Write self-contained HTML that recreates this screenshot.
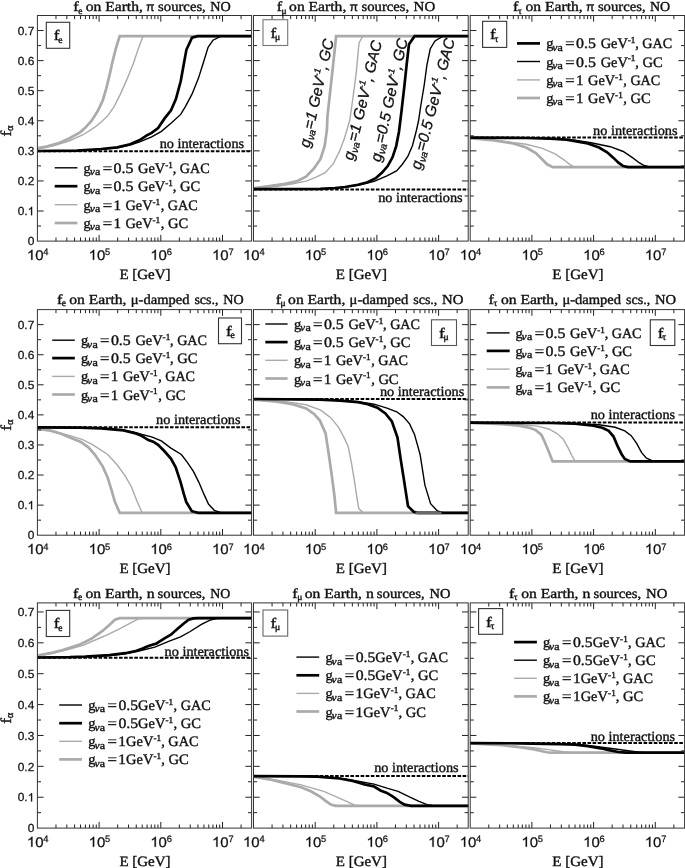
<!DOCTYPE html>
<html><head><meta charset="utf-8"><title>Flavor fractions</title>
<style>html,body{margin:0;padding:0;background:#fff}svg{display:block;will-change:transform;opacity:0.999}text{white-space:pre;text-rendering:geometricPrecision}</style>
</head><body>
<svg width="685" height="868" viewBox="0 0 685 868">
<rect width="685" height="868" fill="#fff"/>
<path d="M37.4 149 L53.1 145.8 L69.1 141 L83.6 134.5 L91.6 129.4 L96.4 126 L101.2 122 L107.7 115.8 L114.1 106.6 L120.5 93.9 L126.9 79.4 L133.4 63.4 L138.2 48.9 L143 36.2 L251.6 36.2" fill="none" stroke="#aaaaaa" stroke-width="1.4" stroke-linejoin="miter" stroke-miterlimit="3" stroke-linecap="butt" />
<path d="M37.4 148.2 L46.6 146.6 L57.9 143.4 L69.1 138.5 L80.4 132.1 L85.2 127.8 L91.6 120.6 L98 110.5 L102.8 100.2 L106.1 89.1 L109.3 76.2 L112.5 61.8 L115.7 48.9 L119.7 36.2 L251.6 36.2" fill="none" stroke="#aaaaaa" stroke-width="2.7" stroke-linejoin="miter" stroke-miterlimit="3" stroke-linecap="butt" />
<path d="M37.4 151 L77 150.7 L101.2 149.4 L117.3 147.8 L130.1 145 L139.8 141.8 L151.7 136.9 L161.4 131.3 L171 123.2 L180.7 114.4 L185.5 106.3 L192 94.2 L198.5 78.1 L204.1 60.3 L208.1 47.4 L213 40.2 L221 36.2 L251.6 36.2" fill="none" stroke="#000" stroke-width="1.4" stroke-linejoin="miter" stroke-miterlimit="3" stroke-linecap="butt" />
<path d="M37.4 151 L77 150.6 L101.2 149 L117.3 147.4 L130.1 144.2 L139.8 140.1 L146.8 135.3 L151.7 132.9 L158.1 128.1 L164.6 118.4 L171 110.3 L175.9 99 L180.7 81.3 L183.9 63.5 L186.4 49.8 L192 37.7 L197.6 36.2 L251.6 36.2" fill="none" stroke="#000" stroke-width="2.7" stroke-linejoin="miter" stroke-miterlimit="3" stroke-linecap="butt" />
<line x1="37.4" y1="151.2" x2="251.6" y2="151.2" stroke="#000" stroke-width="2.0" stroke-dasharray="3.6 1.5"/>
<path d="M253.5 188.5 L277.1 186.2 L293.1 183.8 L306 181.1 L315.6 177.4 L325.3 172.6 L333.3 163.7 L339.7 150.9 L344.5 138 L346.9 130 L349.8 120 L353 97.4 L356.2 73.2 L359 43 L362.8 36.2 L468.2 36.2" fill="none" stroke="#aaaaaa" stroke-width="1.4" stroke-linejoin="miter" stroke-miterlimit="3" stroke-linecap="butt" />
<path d="M253.5 188.1 L269.1 186.2 L285.1 183.8 L296.4 181.4 L306 176.6 L314 168.5 L320.5 158.9 L324.6 146.1 L326.9 130 L327.4 116.8 L330.4 89.4 L333.6 60.3 L336.1 36.2 L468.2 36.2" fill="none" stroke="#aaaaaa" stroke-width="2.7" stroke-linejoin="miter" stroke-miterlimit="3" stroke-linecap="butt" />
<path d="M253.5 189.2 L320 188.9 L340 187.8 L358 185.4 L374.1 181.4 L386.9 175.8 L396.5 170.9 L402.2 164.5 L407.8 156.5 L412.5 145.5 L416.5 130 L418.5 121 L420.9 105 L424.3 84.5 L426.9 65.2 L430.2 49 L435 41 L443 36.2 L468.2 36.2" fill="none" stroke="#000" stroke-width="1.4" stroke-linejoin="miter" stroke-miterlimit="3" stroke-linecap="butt" />
<path d="M253.5 189.2 L320 188.8 L335 188 L345 187 L358 184.8 L367.6 182.2 L375.7 178.2 L382.1 172.6 L387.7 166.1 L392.5 157.3 L396.2 146.1 L399 131.5 L401.6 110.3 L404.2 87.7 L406.6 65.2 L409 44.2 L414.6 36.2 L468.2 36.2" fill="none" stroke="#000" stroke-width="2.7" stroke-linejoin="miter" stroke-miterlimit="3" stroke-linecap="butt" />
<line x1="253.5" y1="189.4" x2="468.2" y2="189.4" stroke="#000" stroke-width="2.0" stroke-dasharray="3.6 1.5"/>
<path d="M470.2 138.2 L502.1 141.1 L526.2 144.3 L542.3 148.3 L555.1 153.9 L564.7 160.3 L569.6 164.3 L574.4 167.1 L684.6 167.1" fill="none" stroke="#aaaaaa" stroke-width="1.4" stroke-linejoin="miter" stroke-miterlimit="3" stroke-linecap="butt" />
<path d="M470.2 138.2 L494.1 140.3 L513.4 143.5 L526.2 147.5 L535.8 153.1 L542.3 159.5 L547.1 164.3 L552.7 167.1 L684.6 167.1" fill="none" stroke="#aaaaaa" stroke-width="2.7" stroke-linejoin="miter" stroke-miterlimit="3" stroke-linecap="butt" />
<path d="M470.2 137.7 L526 138 L550.3 138.6 L575 140.3 L591.1 142.7 L610.3 146.7 L623.2 151.5 L632.8 157.9 L639.2 162.7 L644.1 165.5 L650.5 167.1 L684.6 167.1" fill="none" stroke="#000" stroke-width="1.4" stroke-linejoin="miter" stroke-miterlimit="3" stroke-linecap="butt" />
<path d="M470.2 137.7 L526 138 L550.3 138.7 L566.4 139.7 L575 141.1 L587.8 143.5 L599.1 147.5 L607.1 152.3 L613.5 157.9 L618.4 162.7 L623.2 166 L628 167.1 L684.6 167.1" fill="none" stroke="#000" stroke-width="2.7" stroke-linejoin="miter" stroke-miterlimit="3" stroke-linecap="butt" />
<line x1="470.2" y1="137.5" x2="684.6" y2="137.5" stroke="#000" stroke-width="2.0" stroke-dasharray="3.6 1.5"/>
<path d="M37.4 429.2 L53.1 431.2 L69.1 435.3 L82 439.3 L91.6 444.1 L98 448.1 L107.7 454.5 L117.3 465 L125.3 476.2 L131.7 487.5 L136.6 500.3 L142.2 512.8 L251.6 512.8" fill="none" stroke="#aaaaaa" stroke-width="1.4" stroke-linejoin="miter" stroke-miterlimit="3" stroke-linecap="butt" />
<path d="M37.4 428.8 L49.8 430.4 L61.1 433.7 L72.3 438.5 L80.4 441.7 L88.4 447.3 L94.8 454.5 L102.8 466.6 L107.7 477.8 L111.7 490.7 L114.9 501.9 L119.7 512.8 L251.6 512.8" fill="none" stroke="#aaaaaa" stroke-width="2.7" stroke-linejoin="miter" stroke-miterlimit="3" stroke-linecap="butt" />
<path d="M37.4 427.4 L80 427.7 L101.2 428.3 L120 429.8 L133.4 432 L142 434.5 L151.6 436.9 L161.3 440.9 L170.9 448.1 L181.3 454.5 L187 461.8 L193.4 471.4 L199 482.6 L203.8 493.9 L208.6 504.3 L214.3 510.3 L221.5 512.8 L251.6 512.8" fill="none" stroke="#000" stroke-width="1.4" stroke-linejoin="miter" stroke-miterlimit="3" stroke-linecap="butt" />
<path d="M37.4 427.4 L80 427.7 L101.2 428.4 L123.7 430.4 L136.6 433.7 L142 436.1 L148.4 440.1 L153.2 441.7 L158.1 444.9 L164.5 451.3 L170.9 458.5 L175.7 467.4 L180.5 481.8 L183.8 493.9 L186.2 501.9 L191.8 511.2 L198.2 512.8 L251.6 512.8" fill="none" stroke="#000" stroke-width="2.7" stroke-linejoin="miter" stroke-miterlimit="3" stroke-linecap="butt" />
<line x1="37.4" y1="427.2" x2="251.6" y2="427.2" stroke="#000" stroke-width="2.0" stroke-dasharray="3.6 1.5"/>
<path d="M253.5 399.7 L285.3 401.6 L306.2 404.8 L320.7 410.2 L330.4 417.4 L338.5 427.1 L344.1 437.6 L348.2 446.5 L351.4 462.6 L354.6 481.9 L357 498.1 L358.8 508.8 L363.6 512.9 L468.2 512.9" fill="none" stroke="#aaaaaa" stroke-width="1.4" stroke-linejoin="miter" stroke-miterlimit="3" stroke-linecap="butt" />
<path d="M253.5 399.7 L277.2 401.6 L293.3 404.5 L306.2 408.5 L314.3 414.2 L319.9 420.6 L325.6 433.5 L328.8 454.5 L332 477.1 L334.5 496.5 L336.1 512.9 L468.2 512.9" fill="none" stroke="#aaaaaa" stroke-width="2.7" stroke-linejoin="miter" stroke-miterlimit="3" stroke-linecap="butt" />
<path d="M253.5 399 L320 399.5 L340 400.4 L358 401.6 L374.1 404.2 L387 408.1 L396.7 411.8 L403.2 416.6 L409.6 423.9 L414.5 434.4 L420.1 454.5 L424.9 485.2 L430.6 503.7 L437 510.6 L443.5 512.9 L468.2 512.9" fill="none" stroke="#000" stroke-width="1.4" stroke-linejoin="miter" stroke-miterlimit="3" stroke-linecap="butt" />
<path d="M253.5 399 L320 399.6 L340 400.6 L358 402.1 L367.7 404.2 L377.4 407.7 L385.4 413.4 L391.9 421.5 L397.5 437.6 L400.7 459.4 L404 480.3 L408 506.1 L413.6 511.8 L417.7 512.9 L468.2 512.9" fill="none" stroke="#000" stroke-width="2.7" stroke-linejoin="miter" stroke-miterlimit="3" stroke-linecap="butt" />
<line x1="415.5" y1="512.9" x2="441.5" y2="512.9" stroke="#6a6a6a" stroke-width="2.7" />
<line x1="253.5" y1="398.9" x2="468.2" y2="398.9" stroke="#000" stroke-width="2.0" stroke-dasharray="3.6 1.5"/>
<path d="M470.2 422.8 L518.2 424.5 L537.4 426.1 L548.7 429 L556.7 433.3 L563.1 438.9 L568 447.7 L572 455.8 L575.2 461.4 L684.6 461.4" fill="none" stroke="#aaaaaa" stroke-width="1.4" stroke-linejoin="miter" stroke-miterlimit="3" stroke-linecap="butt" />
<path d="M470.2 422.8 L502.1 424.1 L518.2 425.7 L529.4 427.7 L535.8 430.1 L541.5 434.9 L545.5 443.7 L549.5 453.4 L552.7 461.4 L684.6 461.4" fill="none" stroke="#aaaaaa" stroke-width="2.7" stroke-linejoin="miter" stroke-miterlimit="3" stroke-linecap="butt" />
<path d="M470.2 422.6 L550 423 L575 423.6 L599.1 424.8 L615.1 427.3 L624.8 430.9 L631.2 435.7 L636.8 443.7 L641.6 452.6 L646.5 458.2 L653.7 461.4 L684.6 461.4" fill="none" stroke="#000" stroke-width="1.4" stroke-linejoin="miter" stroke-miterlimit="3" stroke-linecap="butt" />
<path d="M470.2 422.6 L550 423 L575 423.7 L591.1 425.3 L602.3 427.7 L608.7 430.9 L613.5 436.5 L617.6 446.1 L621.6 454.2 L624.8 459 L630.4 461.4 L684.6 461.4" fill="none" stroke="#000" stroke-width="2.7" stroke-linejoin="miter" stroke-miterlimit="3" stroke-linecap="butt" />
<line x1="470.2" y1="422.4" x2="684.6" y2="422.4" stroke="#000" stroke-width="2.0" stroke-dasharray="3.6 1.5"/>
<path d="M37.4 656.1 L53.1 653.2 L69.1 649.2 L83.6 645.1 L96.4 639.5 L107.7 634.7 L120.5 628.3 L131.7 622.3 L139 618.7 L142.2 618.2 L251.6 618.2" fill="none" stroke="#aaaaaa" stroke-width="1.4" stroke-linejoin="miter" stroke-miterlimit="3" stroke-linecap="butt" />
<path d="M37.4 655.6 L49.8 653.2 L62.7 650 L80.4 644.3 L91.6 638.7 L102.8 630.7 L109.3 625.1 L114.9 619.8 L119.7 618.2 L251.6 618.2" fill="none" stroke="#aaaaaa" stroke-width="2.7" stroke-linejoin="miter" stroke-miterlimit="3" stroke-linecap="butt" />
<path d="M37.4 657.5 L70 657.3 L85.2 656.9 L109.3 655.5 L125.3 653.8 L136.6 651.6 L142 650.3 L154.8 647.1 L169.3 641.1 L180.5 636.8 L190.2 631.5 L201.4 624.3 L209.5 620.3 L215.9 618.5 L220.7 618.2 L251.6 618.2" fill="none" stroke="#000" stroke-width="1.4" stroke-linejoin="miter" stroke-miterlimit="3" stroke-linecap="butt" />
<path d="M37.4 657.5 L70 657.2 L85.2 656.7 L109.3 655.1 L125.3 653.2 L136.6 650.8 L142 648.7 L148.4 646 L156.5 643.5 L164.5 638.4 L170.9 634.7 L177.3 629.1 L183.8 623.5 L188.6 619.8 L193.4 618.4 L198.2 618.2 L251.6 618.2" fill="none" stroke="#000" stroke-width="2.7" stroke-linejoin="miter" stroke-miterlimit="3" stroke-linecap="butt" />
<line x1="37.4" y1="657.7" x2="251.6" y2="657.7" stroke="#000" stroke-width="2.0" stroke-dasharray="3.6 1.5"/>
<path d="M253.5 777 L277.1 780.1 L301.2 784.9 L312.4 788.1 L323.7 791.3 L336.5 796.9 L347.7 801.8 L354.2 805 L358.2 805.8 L468.2 805.8" fill="none" stroke="#aaaaaa" stroke-width="1.4" stroke-linejoin="miter" stroke-miterlimit="3" stroke-linecap="butt" />
<path d="M253.5 776.9 L269.1 779.3 L285.1 783.3 L301.2 787.3 L310.8 791.3 L320.5 796.9 L326.9 801.8 L330.9 804.6 L335.7 805.8 L468.2 805.8" fill="none" stroke="#aaaaaa" stroke-width="2.7" stroke-linejoin="miter" stroke-miterlimit="3" stroke-linecap="butt" />
<path d="M253.5 776.2 L300 776.3 L317.2 776.5 L339.7 778.2 L358 781.2 L374.1 784.1 L386.9 788.1 L398.1 791.3 L409.4 796.9 L419 801.4 L427.1 804.6 L433.5 805.8 L468.2 805.8" fill="none" stroke="#000" stroke-width="1.4" stroke-linejoin="miter" stroke-miterlimit="3" stroke-linecap="butt" />
<path d="M253.5 776.2 L300 776.3 L317.2 776.6 L339.7 778.5 L352.6 780.9 L358 782.5 L364.4 784.4 L374.1 786.5 L380.5 790.5 L386.9 792.9 L393.3 796.9 L399.8 801.8 L404.6 804.6 L411 805.8 L468.2 805.8" fill="none" stroke="#000" stroke-width="2.7" stroke-linejoin="miter" stroke-miterlimit="3" stroke-linecap="butt" />
<line x1="253.5" y1="776.1" x2="468.2" y2="776.1" stroke="#000" stroke-width="2.0" stroke-dasharray="3.6 1.5"/>
<path d="M470.2 743.5 L510.1 745.6 L534.2 747.8 L550.3 749.9 L563.1 751.8 L571.2 752.6 L684.6 752.6" fill="none" stroke="#aaaaaa" stroke-width="1.4" stroke-linejoin="miter" stroke-miterlimit="3" stroke-linecap="butt" />
<path d="M470.2 743.5 L502.1 745.1 L521.4 747.5 L534.2 749.4 L542.3 751.2 L547.9 752.5 L552.7 752.6 L684.6 752.6" fill="none" stroke="#aaaaaa" stroke-width="2.7" stroke-linejoin="miter" stroke-miterlimit="3" stroke-linecap="butt" />
<path d="M470.2 743.1 L520 743.3 L545 743.7 L560 743.9 L575 744.3 L594.3 746.2 L613.5 748.8 L628 750.7 L639.2 752.3 L645.7 752.6 L684.6 752.6" fill="none" stroke="#000" stroke-width="1.4" stroke-linejoin="miter" stroke-miterlimit="3" stroke-linecap="butt" />
<path d="M470.2 743.1 L520 743.3 L545 743.8 L560 744.1 L575 744.6 L587.8 746.2 L600.7 748.3 L610.3 750.4 L618.4 752 L626.4 752.6 L684.6 752.6" fill="none" stroke="#000" stroke-width="2.7" stroke-linejoin="miter" stroke-miterlimit="3" stroke-linecap="butt" />
<line x1="470.2" y1="743" x2="684.6" y2="743" stroke="#000" stroke-width="2.0" stroke-dasharray="3.6 1.5"/>
<path d="M55.97 241.1v-3.6M55.97 15.5v3.6M66.84 241.1v-3.6M66.84 15.5v3.6M74.55 241.1v-3.6M74.55 15.5v3.6M80.53 241.1v-3.6M80.53 15.5v3.6M85.41 241.1v-3.6M85.41 15.5v3.6M89.54 241.1v-3.6M89.54 15.5v3.6M93.12 241.1v-3.6M93.12 15.5v3.6M96.28 241.1v-3.6M96.28 15.5v3.6M99.1 241.1v-6.2M99.1 15.5v6.2M117.67 241.1v-3.6M117.67 15.5v3.6M128.54 241.1v-3.6M128.54 15.5v3.6M136.25 241.1v-3.6M136.25 15.5v3.6M142.23 241.1v-3.6M142.23 15.5v3.6M147.11 241.1v-3.6M147.11 15.5v3.6M151.24 241.1v-3.6M151.24 15.5v3.6M154.82 241.1v-3.6M154.82 15.5v3.6M157.98 241.1v-3.6M157.98 15.5v3.6M160.8 241.1v-6.2M160.8 15.5v6.2M179.37 241.1v-3.6M179.37 15.5v3.6M190.24 241.1v-3.6M190.24 15.5v3.6M197.95 241.1v-3.6M197.95 15.5v3.6M203.93 241.1v-3.6M203.93 15.5v3.6M208.81 241.1v-3.6M208.81 15.5v3.6M212.94 241.1v-3.6M212.94 15.5v3.6M216.52 241.1v-3.6M216.52 15.5v3.6M219.68 241.1v-3.6M219.68 15.5v3.6M222.5 241.1v-6.2M222.5 15.5v6.2M241.07 241.1v-3.6M241.07 15.5v3.6M37.4 226.06h3.6M251.6 226.06h-3.6M37.4 211.02h6.2M251.6 211.02h-6.2M37.4 195.98h3.6M251.6 195.98h-3.6M37.4 180.94h6.2M251.6 180.94h-6.2M37.4 165.9h3.6M251.6 165.9h-3.6M37.4 150.86h6.2M251.6 150.86h-6.2M37.4 135.82h3.6M251.6 135.82h-3.6M37.4 120.78h6.2M251.6 120.78h-6.2M37.4 105.74h3.6M251.6 105.74h-3.6M37.4 90.7h6.2M251.6 90.7h-6.2M37.4 75.66h3.6M251.6 75.66h-3.6M37.4 60.62h6.2M251.6 60.62h-6.2M37.4 45.58h3.6M251.6 45.58h-3.6M37.4 30.54h6.2M251.6 30.54h-6.2" stroke="#222" stroke-width="1" fill="none"/>
<rect x="37.4" y="15.5" width="214.2" height="225.6" fill="none" stroke="#333" stroke-width="1"/>
<g transform="translate(26.9,259.8) scale(1.07,1)">
<path d="M763 0H583V1147Q518 1085 412.5 1023T223 930V1104Q374 1175 487 1276T647 1472H763Z" transform="translate(0,0) scale(0.006836,-0.006836)" fill="#111" stroke="#111" stroke-width="36"/>
<text x="7.78" y="0" font-family='"Liberation Sans", sans-serif' font-size="14.0" fill="#111" stroke="#111" stroke-width="0.25">0</text>
</g>
<g transform="translate(43.3,255.4) scale(1.0,1)">
<text x="0" y="0" font-family='"Liberation Sans", sans-serif' font-size="9.3" fill="#111" stroke="#111" stroke-width="0.25">4</text>
</g>
<g transform="translate(88.6,259.8) scale(1.07,1)">
<path d="M763 0H583V1147Q518 1085 412.5 1023T223 930V1104Q374 1175 487 1276T647 1472H763Z" transform="translate(0,0) scale(0.006836,-0.006836)" fill="#111" stroke="#111" stroke-width="36"/>
<text x="7.78" y="0" font-family='"Liberation Sans", sans-serif' font-size="14.0" fill="#111" stroke="#111" stroke-width="0.25">0</text>
</g>
<g transform="translate(105,255.4) scale(1.0,1)">
<text x="0" y="0" font-family='"Liberation Sans", sans-serif' font-size="9.3" fill="#111" stroke="#111" stroke-width="0.25">5</text>
</g>
<g transform="translate(150.3,259.8) scale(1.07,1)">
<path d="M763 0H583V1147Q518 1085 412.5 1023T223 930V1104Q374 1175 487 1276T647 1472H763Z" transform="translate(0,0) scale(0.006836,-0.006836)" fill="#111" stroke="#111" stroke-width="36"/>
<text x="7.78" y="0" font-family='"Liberation Sans", sans-serif' font-size="14.0" fill="#111" stroke="#111" stroke-width="0.25">0</text>
</g>
<g transform="translate(166.7,255.4) scale(1.0,1)">
<text x="0" y="0" font-family='"Liberation Sans", sans-serif' font-size="9.3" fill="#111" stroke="#111" stroke-width="0.25">6</text>
</g>
<g transform="translate(212,259.8) scale(1.07,1)">
<path d="M763 0H583V1147Q518 1085 412.5 1023T223 930V1104Q374 1175 487 1276T647 1472H763Z" transform="translate(0,0) scale(0.006836,-0.006836)" fill="#111" stroke="#111" stroke-width="36"/>
<text x="7.78" y="0" font-family='"Liberation Sans", sans-serif' font-size="14.0" fill="#111" stroke="#111" stroke-width="0.25">0</text>
</g>
<g transform="translate(228.4,255.4) scale(1.0,1)">
<text x="0" y="0" font-family='"Liberation Sans", sans-serif' font-size="9.3" fill="#111" stroke="#111" stroke-width="0.25">7</text>
</g>
<text x="119.4" y="278.7" font-family='"Liberation Serif", serif' font-size="14.4" text-anchor="start" fill="#111" textLength="51.2" lengthAdjust="spacingAndGlyphs"  stroke="#111" stroke-width="0.38">E [GeV]</text>
<path d="M272.07 241.1v-3.6M272.07 15.5v3.6M282.94 241.1v-3.6M282.94 15.5v3.6M290.65 241.1v-3.6M290.65 15.5v3.6M296.63 241.1v-3.6M296.63 15.5v3.6M301.51 241.1v-3.6M301.51 15.5v3.6M305.64 241.1v-3.6M305.64 15.5v3.6M309.22 241.1v-3.6M309.22 15.5v3.6M312.38 241.1v-3.6M312.38 15.5v3.6M315.2 241.1v-6.2M315.2 15.5v6.2M333.77 241.1v-3.6M333.77 15.5v3.6M344.64 241.1v-3.6M344.64 15.5v3.6M352.35 241.1v-3.6M352.35 15.5v3.6M358.33 241.1v-3.6M358.33 15.5v3.6M363.21 241.1v-3.6M363.21 15.5v3.6M367.34 241.1v-3.6M367.34 15.5v3.6M370.92 241.1v-3.6M370.92 15.5v3.6M374.08 241.1v-3.6M374.08 15.5v3.6M376.9 241.1v-6.2M376.9 15.5v6.2M395.47 241.1v-3.6M395.47 15.5v3.6M406.34 241.1v-3.6M406.34 15.5v3.6M414.05 241.1v-3.6M414.05 15.5v3.6M420.03 241.1v-3.6M420.03 15.5v3.6M424.91 241.1v-3.6M424.91 15.5v3.6M429.04 241.1v-3.6M429.04 15.5v3.6M432.62 241.1v-3.6M432.62 15.5v3.6M435.78 241.1v-3.6M435.78 15.5v3.6M438.6 241.1v-6.2M438.6 15.5v6.2M457.17 241.1v-3.6M457.17 15.5v3.6M253.5 226.06h3.6M468.2 226.06h-3.6M253.5 211.02h6.2M468.2 211.02h-6.2M253.5 195.98h3.6M468.2 195.98h-3.6M253.5 180.94h6.2M468.2 180.94h-6.2M253.5 165.9h3.6M468.2 165.9h-3.6M253.5 150.86h6.2M468.2 150.86h-6.2M253.5 135.82h3.6M468.2 135.82h-3.6M253.5 120.78h6.2M468.2 120.78h-6.2M253.5 105.74h3.6M468.2 105.74h-3.6M253.5 90.7h6.2M468.2 90.7h-6.2M253.5 75.66h3.6M468.2 75.66h-3.6M253.5 60.62h6.2M468.2 60.62h-6.2M253.5 45.58h3.6M468.2 45.58h-3.6M253.5 30.54h6.2M468.2 30.54h-6.2" stroke="#222" stroke-width="1" fill="none"/>
<rect x="253.5" y="15.5" width="214.7" height="225.6" fill="none" stroke="#333" stroke-width="1"/>
<g transform="translate(243,259.8) scale(1.07,1)">
<path d="M763 0H583V1147Q518 1085 412.5 1023T223 930V1104Q374 1175 487 1276T647 1472H763Z" transform="translate(0,0) scale(0.006836,-0.006836)" fill="#111" stroke="#111" stroke-width="36"/>
<text x="7.78" y="0" font-family='"Liberation Sans", sans-serif' font-size="14.0" fill="#111" stroke="#111" stroke-width="0.25">0</text>
</g>
<g transform="translate(259.4,255.4) scale(1.0,1)">
<text x="0" y="0" font-family='"Liberation Sans", sans-serif' font-size="9.3" fill="#111" stroke="#111" stroke-width="0.25">4</text>
</g>
<g transform="translate(304.7,259.8) scale(1.07,1)">
<path d="M763 0H583V1147Q518 1085 412.5 1023T223 930V1104Q374 1175 487 1276T647 1472H763Z" transform="translate(0,0) scale(0.006836,-0.006836)" fill="#111" stroke="#111" stroke-width="36"/>
<text x="7.78" y="0" font-family='"Liberation Sans", sans-serif' font-size="14.0" fill="#111" stroke="#111" stroke-width="0.25">0</text>
</g>
<g transform="translate(321.1,255.4) scale(1.0,1)">
<text x="0" y="0" font-family='"Liberation Sans", sans-serif' font-size="9.3" fill="#111" stroke="#111" stroke-width="0.25">5</text>
</g>
<g transform="translate(366.4,259.8) scale(1.07,1)">
<path d="M763 0H583V1147Q518 1085 412.5 1023T223 930V1104Q374 1175 487 1276T647 1472H763Z" transform="translate(0,0) scale(0.006836,-0.006836)" fill="#111" stroke="#111" stroke-width="36"/>
<text x="7.78" y="0" font-family='"Liberation Sans", sans-serif' font-size="14.0" fill="#111" stroke="#111" stroke-width="0.25">0</text>
</g>
<g transform="translate(382.8,255.4) scale(1.0,1)">
<text x="0" y="0" font-family='"Liberation Sans", sans-serif' font-size="9.3" fill="#111" stroke="#111" stroke-width="0.25">6</text>
</g>
<g transform="translate(428.1,259.8) scale(1.07,1)">
<path d="M763 0H583V1147Q518 1085 412.5 1023T223 930V1104Q374 1175 487 1276T647 1472H763Z" transform="translate(0,0) scale(0.006836,-0.006836)" fill="#111" stroke="#111" stroke-width="36"/>
<text x="7.78" y="0" font-family='"Liberation Sans", sans-serif' font-size="14.0" fill="#111" stroke="#111" stroke-width="0.25">0</text>
</g>
<g transform="translate(444.5,255.4) scale(1.0,1)">
<text x="0" y="0" font-family='"Liberation Sans", sans-serif' font-size="9.3" fill="#111" stroke="#111" stroke-width="0.25">7</text>
</g>
<text x="335.75" y="278.7" font-family='"Liberation Serif", serif' font-size="14.4" text-anchor="start" fill="#111" textLength="51.2" lengthAdjust="spacingAndGlyphs"  stroke="#111" stroke-width="0.38">E [GeV]</text>
<path d="M488.77 241.1v-3.6M488.77 15.5v3.6M499.64 241.1v-3.6M499.64 15.5v3.6M507.35 241.1v-3.6M507.35 15.5v3.6M513.33 241.1v-3.6M513.33 15.5v3.6M518.21 241.1v-3.6M518.21 15.5v3.6M522.34 241.1v-3.6M522.34 15.5v3.6M525.92 241.1v-3.6M525.92 15.5v3.6M529.08 241.1v-3.6M529.08 15.5v3.6M531.9 241.1v-6.2M531.9 15.5v6.2M550.47 241.1v-3.6M550.47 15.5v3.6M561.34 241.1v-3.6M561.34 15.5v3.6M569.05 241.1v-3.6M569.05 15.5v3.6M575.03 241.1v-3.6M575.03 15.5v3.6M579.91 241.1v-3.6M579.91 15.5v3.6M584.04 241.1v-3.6M584.04 15.5v3.6M587.62 241.1v-3.6M587.62 15.5v3.6M590.78 241.1v-3.6M590.78 15.5v3.6M593.6 241.1v-6.2M593.6 15.5v6.2M612.17 241.1v-3.6M612.17 15.5v3.6M623.04 241.1v-3.6M623.04 15.5v3.6M630.75 241.1v-3.6M630.75 15.5v3.6M636.73 241.1v-3.6M636.73 15.5v3.6M641.61 241.1v-3.6M641.61 15.5v3.6M645.74 241.1v-3.6M645.74 15.5v3.6M649.32 241.1v-3.6M649.32 15.5v3.6M652.48 241.1v-3.6M652.48 15.5v3.6M655.3 241.1v-6.2M655.3 15.5v6.2M673.87 241.1v-3.6M673.87 15.5v3.6M470.2 226.06h3.6M684.6 226.06h-3.6M470.2 211.02h6.2M684.6 211.02h-6.2M470.2 195.98h3.6M684.6 195.98h-3.6M470.2 180.94h6.2M684.6 180.94h-6.2M470.2 165.9h3.6M684.6 165.9h-3.6M470.2 150.86h6.2M684.6 150.86h-6.2M470.2 135.82h3.6M684.6 135.82h-3.6M470.2 120.78h6.2M684.6 120.78h-6.2M470.2 105.74h3.6M684.6 105.74h-3.6M470.2 90.7h6.2M684.6 90.7h-6.2M470.2 75.66h3.6M684.6 75.66h-3.6M470.2 60.62h6.2M684.6 60.62h-6.2M470.2 45.58h3.6M684.6 45.58h-3.6M470.2 30.54h6.2M684.6 30.54h-6.2" stroke="#222" stroke-width="1" fill="none"/>
<rect x="470.2" y="15.5" width="214.4" height="225.6" fill="none" stroke="#333" stroke-width="1"/>
<g transform="translate(459.7,259.8) scale(1.07,1)">
<path d="M763 0H583V1147Q518 1085 412.5 1023T223 930V1104Q374 1175 487 1276T647 1472H763Z" transform="translate(0,0) scale(0.006836,-0.006836)" fill="#111" stroke="#111" stroke-width="36"/>
<text x="7.78" y="0" font-family='"Liberation Sans", sans-serif' font-size="14.0" fill="#111" stroke="#111" stroke-width="0.25">0</text>
</g>
<g transform="translate(476.1,255.4) scale(1.0,1)">
<text x="0" y="0" font-family='"Liberation Sans", sans-serif' font-size="9.3" fill="#111" stroke="#111" stroke-width="0.25">4</text>
</g>
<g transform="translate(521.4,259.8) scale(1.07,1)">
<path d="M763 0H583V1147Q518 1085 412.5 1023T223 930V1104Q374 1175 487 1276T647 1472H763Z" transform="translate(0,0) scale(0.006836,-0.006836)" fill="#111" stroke="#111" stroke-width="36"/>
<text x="7.78" y="0" font-family='"Liberation Sans", sans-serif' font-size="14.0" fill="#111" stroke="#111" stroke-width="0.25">0</text>
</g>
<g transform="translate(537.8,255.4) scale(1.0,1)">
<text x="0" y="0" font-family='"Liberation Sans", sans-serif' font-size="9.3" fill="#111" stroke="#111" stroke-width="0.25">5</text>
</g>
<g transform="translate(583.1,259.8) scale(1.07,1)">
<path d="M763 0H583V1147Q518 1085 412.5 1023T223 930V1104Q374 1175 487 1276T647 1472H763Z" transform="translate(0,0) scale(0.006836,-0.006836)" fill="#111" stroke="#111" stroke-width="36"/>
<text x="7.78" y="0" font-family='"Liberation Sans", sans-serif' font-size="14.0" fill="#111" stroke="#111" stroke-width="0.25">0</text>
</g>
<g transform="translate(599.5,255.4) scale(1.0,1)">
<text x="0" y="0" font-family='"Liberation Sans", sans-serif' font-size="9.3" fill="#111" stroke="#111" stroke-width="0.25">6</text>
</g>
<g transform="translate(644.8,259.8) scale(1.07,1)">
<path d="M763 0H583V1147Q518 1085 412.5 1023T223 930V1104Q374 1175 487 1276T647 1472H763Z" transform="translate(0,0) scale(0.006836,-0.006836)" fill="#111" stroke="#111" stroke-width="36"/>
<text x="7.78" y="0" font-family='"Liberation Sans", sans-serif' font-size="14.0" fill="#111" stroke="#111" stroke-width="0.25">0</text>
</g>
<g transform="translate(661.2,255.4) scale(1.0,1)">
<text x="0" y="0" font-family='"Liberation Sans", sans-serif' font-size="9.3" fill="#111" stroke="#111" stroke-width="0.25">7</text>
</g>
<text x="552.3" y="278.7" font-family='"Liberation Serif", serif' font-size="14.4" text-anchor="start" fill="#111" textLength="51.2" lengthAdjust="spacingAndGlyphs"  stroke="#111" stroke-width="0.38">E [GeV]</text>
<g transform="translate(27.66,245.3) scale(1.02,1)">
<text x="0" y="0" font-family='"Liberation Sans", sans-serif' font-size="11.7" fill="#111" stroke="#111" stroke-width="0.25">0</text>
</g>
<g transform="translate(17.71,215.22) scale(1.02,1)">
<text x="0" y="0" font-family='"Liberation Sans", sans-serif' font-size="11.7" fill="#111" stroke="#111" stroke-width="0.25">0</text>
<text x="6.51" y="0" font-family='"Liberation Sans", sans-serif' font-size="11.7" fill="#111" stroke="#111" stroke-width="0.25">.</text>
<path d="M763 0H583V1147Q518 1085 412.5 1023T223 930V1104Q374 1175 487 1276T647 1472H763Z" transform="translate(9.76,0) scale(0.005713,-0.005713)" fill="#111" stroke="#111" stroke-width="43"/>
</g>
<g transform="translate(17.71,185.14) scale(1.02,1)">
<text x="0" y="0" font-family='"Liberation Sans", sans-serif' font-size="11.7" fill="#111" stroke="#111" stroke-width="0.25">0</text>
<text x="6.51" y="0" font-family='"Liberation Sans", sans-serif' font-size="11.7" fill="#111" stroke="#111" stroke-width="0.25">.</text>
<text x="9.76" y="0" font-family='"Liberation Sans", sans-serif' font-size="11.7" fill="#111" stroke="#111" stroke-width="0.25">2</text>
</g>
<g transform="translate(17.71,155.06) scale(1.02,1)">
<text x="0" y="0" font-family='"Liberation Sans", sans-serif' font-size="11.7" fill="#111" stroke="#111" stroke-width="0.25">0</text>
<text x="6.51" y="0" font-family='"Liberation Sans", sans-serif' font-size="11.7" fill="#111" stroke="#111" stroke-width="0.25">.</text>
<text x="9.76" y="0" font-family='"Liberation Sans", sans-serif' font-size="11.7" fill="#111" stroke="#111" stroke-width="0.25">3</text>
</g>
<g transform="translate(17.71,124.98) scale(1.02,1)">
<text x="0" y="0" font-family='"Liberation Sans", sans-serif' font-size="11.7" fill="#111" stroke="#111" stroke-width="0.25">0</text>
<text x="6.51" y="0" font-family='"Liberation Sans", sans-serif' font-size="11.7" fill="#111" stroke="#111" stroke-width="0.25">.</text>
<text x="9.76" y="0" font-family='"Liberation Sans", sans-serif' font-size="11.7" fill="#111" stroke="#111" stroke-width="0.25">4</text>
</g>
<g transform="translate(17.71,94.9) scale(1.02,1)">
<text x="0" y="0" font-family='"Liberation Sans", sans-serif' font-size="11.7" fill="#111" stroke="#111" stroke-width="0.25">0</text>
<text x="6.51" y="0" font-family='"Liberation Sans", sans-serif' font-size="11.7" fill="#111" stroke="#111" stroke-width="0.25">.</text>
<text x="9.76" y="0" font-family='"Liberation Sans", sans-serif' font-size="11.7" fill="#111" stroke="#111" stroke-width="0.25">5</text>
</g>
<g transform="translate(17.71,64.82) scale(1.02,1)">
<text x="0" y="0" font-family='"Liberation Sans", sans-serif' font-size="11.7" fill="#111" stroke="#111" stroke-width="0.25">0</text>
<text x="6.51" y="0" font-family='"Liberation Sans", sans-serif' font-size="11.7" fill="#111" stroke="#111" stroke-width="0.25">.</text>
<text x="9.76" y="0" font-family='"Liberation Sans", sans-serif' font-size="11.7" fill="#111" stroke="#111" stroke-width="0.25">6</text>
</g>
<g transform="translate(17.71,34.74) scale(1.02,1)">
<text x="0" y="0" font-family='"Liberation Sans", sans-serif' font-size="11.7" fill="#111" stroke="#111" stroke-width="0.25">0</text>
<text x="6.51" y="0" font-family='"Liberation Sans", sans-serif' font-size="11.7" fill="#111" stroke="#111" stroke-width="0.25">.</text>
<text x="9.76" y="0" font-family='"Liberation Sans", sans-serif' font-size="11.7" fill="#111" stroke="#111" stroke-width="0.25">7</text>
</g>
<g transform="translate(10.9,136.6) rotate(-90)">
<text x="0" y="0" font-family='"Liberation Serif", serif' font-size="15.0" text-anchor="start" fill="#111" textLength="5.8" lengthAdjust="spacingAndGlyphs"  stroke="#111" stroke-width="0.38">f</text>
<text x="5.6" y="2.2" font-family='"Liberation Serif", serif' font-size="10.5" text-anchor="start" fill="#111"  stroke="#111" stroke-width="0.38">α</text>
</g>
<path d="M55.97 535.2v-3.6M55.97 309.6v3.6M66.84 535.2v-3.6M66.84 309.6v3.6M74.55 535.2v-3.6M74.55 309.6v3.6M80.53 535.2v-3.6M80.53 309.6v3.6M85.41 535.2v-3.6M85.41 309.6v3.6M89.54 535.2v-3.6M89.54 309.6v3.6M93.12 535.2v-3.6M93.12 309.6v3.6M96.28 535.2v-3.6M96.28 309.6v3.6M99.1 535.2v-6.2M99.1 309.6v6.2M117.67 535.2v-3.6M117.67 309.6v3.6M128.54 535.2v-3.6M128.54 309.6v3.6M136.25 535.2v-3.6M136.25 309.6v3.6M142.23 535.2v-3.6M142.23 309.6v3.6M147.11 535.2v-3.6M147.11 309.6v3.6M151.24 535.2v-3.6M151.24 309.6v3.6M154.82 535.2v-3.6M154.82 309.6v3.6M157.98 535.2v-3.6M157.98 309.6v3.6M160.8 535.2v-6.2M160.8 309.6v6.2M179.37 535.2v-3.6M179.37 309.6v3.6M190.24 535.2v-3.6M190.24 309.6v3.6M197.95 535.2v-3.6M197.95 309.6v3.6M203.93 535.2v-3.6M203.93 309.6v3.6M208.81 535.2v-3.6M208.81 309.6v3.6M212.94 535.2v-3.6M212.94 309.6v3.6M216.52 535.2v-3.6M216.52 309.6v3.6M219.68 535.2v-3.6M219.68 309.6v3.6M222.5 535.2v-6.2M222.5 309.6v6.2M241.07 535.2v-3.6M241.07 309.6v3.6M37.4 520.16h3.6M251.6 520.16h-3.6M37.4 505.12h6.2M251.6 505.12h-6.2M37.4 490.08h3.6M251.6 490.08h-3.6M37.4 475.04h6.2M251.6 475.04h-6.2M37.4 460h3.6M251.6 460h-3.6M37.4 444.96h6.2M251.6 444.96h-6.2M37.4 429.92h3.6M251.6 429.92h-3.6M37.4 414.88h6.2M251.6 414.88h-6.2M37.4 399.84h3.6M251.6 399.84h-3.6M37.4 384.8h6.2M251.6 384.8h-6.2M37.4 369.76h3.6M251.6 369.76h-3.6M37.4 354.72h6.2M251.6 354.72h-6.2M37.4 339.68h3.6M251.6 339.68h-3.6M37.4 324.64h6.2M251.6 324.64h-6.2" stroke="#222" stroke-width="1" fill="none"/>
<rect x="37.4" y="309.6" width="214.2" height="225.6" fill="none" stroke="#333" stroke-width="1"/>
<g transform="translate(26.9,553.9) scale(1.07,1)">
<path d="M763 0H583V1147Q518 1085 412.5 1023T223 930V1104Q374 1175 487 1276T647 1472H763Z" transform="translate(0,0) scale(0.006836,-0.006836)" fill="#111" stroke="#111" stroke-width="36"/>
<text x="7.78" y="0" font-family='"Liberation Sans", sans-serif' font-size="14.0" fill="#111" stroke="#111" stroke-width="0.25">0</text>
</g>
<g transform="translate(43.3,549.5) scale(1.0,1)">
<text x="0" y="0" font-family='"Liberation Sans", sans-serif' font-size="9.3" fill="#111" stroke="#111" stroke-width="0.25">4</text>
</g>
<g transform="translate(88.6,553.9) scale(1.07,1)">
<path d="M763 0H583V1147Q518 1085 412.5 1023T223 930V1104Q374 1175 487 1276T647 1472H763Z" transform="translate(0,0) scale(0.006836,-0.006836)" fill="#111" stroke="#111" stroke-width="36"/>
<text x="7.78" y="0" font-family='"Liberation Sans", sans-serif' font-size="14.0" fill="#111" stroke="#111" stroke-width="0.25">0</text>
</g>
<g transform="translate(105,549.5) scale(1.0,1)">
<text x="0" y="0" font-family='"Liberation Sans", sans-serif' font-size="9.3" fill="#111" stroke="#111" stroke-width="0.25">5</text>
</g>
<g transform="translate(150.3,553.9) scale(1.07,1)">
<path d="M763 0H583V1147Q518 1085 412.5 1023T223 930V1104Q374 1175 487 1276T647 1472H763Z" transform="translate(0,0) scale(0.006836,-0.006836)" fill="#111" stroke="#111" stroke-width="36"/>
<text x="7.78" y="0" font-family='"Liberation Sans", sans-serif' font-size="14.0" fill="#111" stroke="#111" stroke-width="0.25">0</text>
</g>
<g transform="translate(166.7,549.5) scale(1.0,1)">
<text x="0" y="0" font-family='"Liberation Sans", sans-serif' font-size="9.3" fill="#111" stroke="#111" stroke-width="0.25">6</text>
</g>
<g transform="translate(212,553.9) scale(1.07,1)">
<path d="M763 0H583V1147Q518 1085 412.5 1023T223 930V1104Q374 1175 487 1276T647 1472H763Z" transform="translate(0,0) scale(0.006836,-0.006836)" fill="#111" stroke="#111" stroke-width="36"/>
<text x="7.78" y="0" font-family='"Liberation Sans", sans-serif' font-size="14.0" fill="#111" stroke="#111" stroke-width="0.25">0</text>
</g>
<g transform="translate(228.4,549.5) scale(1.0,1)">
<text x="0" y="0" font-family='"Liberation Sans", sans-serif' font-size="9.3" fill="#111" stroke="#111" stroke-width="0.25">7</text>
</g>
<text x="119.4" y="572.8" font-family='"Liberation Serif", serif' font-size="14.4" text-anchor="start" fill="#111" textLength="51.2" lengthAdjust="spacingAndGlyphs"  stroke="#111" stroke-width="0.38">E [GeV]</text>
<path d="M272.07 535.2v-3.6M272.07 309.6v3.6M282.94 535.2v-3.6M282.94 309.6v3.6M290.65 535.2v-3.6M290.65 309.6v3.6M296.63 535.2v-3.6M296.63 309.6v3.6M301.51 535.2v-3.6M301.51 309.6v3.6M305.64 535.2v-3.6M305.64 309.6v3.6M309.22 535.2v-3.6M309.22 309.6v3.6M312.38 535.2v-3.6M312.38 309.6v3.6M315.2 535.2v-6.2M315.2 309.6v6.2M333.77 535.2v-3.6M333.77 309.6v3.6M344.64 535.2v-3.6M344.64 309.6v3.6M352.35 535.2v-3.6M352.35 309.6v3.6M358.33 535.2v-3.6M358.33 309.6v3.6M363.21 535.2v-3.6M363.21 309.6v3.6M367.34 535.2v-3.6M367.34 309.6v3.6M370.92 535.2v-3.6M370.92 309.6v3.6M374.08 535.2v-3.6M374.08 309.6v3.6M376.9 535.2v-6.2M376.9 309.6v6.2M395.47 535.2v-3.6M395.47 309.6v3.6M406.34 535.2v-3.6M406.34 309.6v3.6M414.05 535.2v-3.6M414.05 309.6v3.6M420.03 535.2v-3.6M420.03 309.6v3.6M424.91 535.2v-3.6M424.91 309.6v3.6M429.04 535.2v-3.6M429.04 309.6v3.6M432.62 535.2v-3.6M432.62 309.6v3.6M435.78 535.2v-3.6M435.78 309.6v3.6M438.6 535.2v-6.2M438.6 309.6v6.2M457.17 535.2v-3.6M457.17 309.6v3.6M253.5 520.16h3.6M468.2 520.16h-3.6M253.5 505.12h6.2M468.2 505.12h-6.2M253.5 490.08h3.6M468.2 490.08h-3.6M253.5 475.04h6.2M468.2 475.04h-6.2M253.5 460h3.6M468.2 460h-3.6M253.5 444.96h6.2M468.2 444.96h-6.2M253.5 429.92h3.6M468.2 429.92h-3.6M253.5 414.88h6.2M468.2 414.88h-6.2M253.5 399.84h3.6M468.2 399.84h-3.6M253.5 384.8h6.2M468.2 384.8h-6.2M253.5 369.76h3.6M468.2 369.76h-3.6M253.5 354.72h6.2M468.2 354.72h-6.2M253.5 339.68h3.6M468.2 339.68h-3.6M253.5 324.64h6.2M468.2 324.64h-6.2" stroke="#222" stroke-width="1" fill="none"/>
<rect x="253.5" y="309.6" width="214.7" height="225.6" fill="none" stroke="#333" stroke-width="1"/>
<g transform="translate(243,553.9) scale(1.07,1)">
<path d="M763 0H583V1147Q518 1085 412.5 1023T223 930V1104Q374 1175 487 1276T647 1472H763Z" transform="translate(0,0) scale(0.006836,-0.006836)" fill="#111" stroke="#111" stroke-width="36"/>
<text x="7.78" y="0" font-family='"Liberation Sans", sans-serif' font-size="14.0" fill="#111" stroke="#111" stroke-width="0.25">0</text>
</g>
<g transform="translate(259.4,549.5) scale(1.0,1)">
<text x="0" y="0" font-family='"Liberation Sans", sans-serif' font-size="9.3" fill="#111" stroke="#111" stroke-width="0.25">4</text>
</g>
<g transform="translate(304.7,553.9) scale(1.07,1)">
<path d="M763 0H583V1147Q518 1085 412.5 1023T223 930V1104Q374 1175 487 1276T647 1472H763Z" transform="translate(0,0) scale(0.006836,-0.006836)" fill="#111" stroke="#111" stroke-width="36"/>
<text x="7.78" y="0" font-family='"Liberation Sans", sans-serif' font-size="14.0" fill="#111" stroke="#111" stroke-width="0.25">0</text>
</g>
<g transform="translate(321.1,549.5) scale(1.0,1)">
<text x="0" y="0" font-family='"Liberation Sans", sans-serif' font-size="9.3" fill="#111" stroke="#111" stroke-width="0.25">5</text>
</g>
<g transform="translate(366.4,553.9) scale(1.07,1)">
<path d="M763 0H583V1147Q518 1085 412.5 1023T223 930V1104Q374 1175 487 1276T647 1472H763Z" transform="translate(0,0) scale(0.006836,-0.006836)" fill="#111" stroke="#111" stroke-width="36"/>
<text x="7.78" y="0" font-family='"Liberation Sans", sans-serif' font-size="14.0" fill="#111" stroke="#111" stroke-width="0.25">0</text>
</g>
<g transform="translate(382.8,549.5) scale(1.0,1)">
<text x="0" y="0" font-family='"Liberation Sans", sans-serif' font-size="9.3" fill="#111" stroke="#111" stroke-width="0.25">6</text>
</g>
<g transform="translate(428.1,553.9) scale(1.07,1)">
<path d="M763 0H583V1147Q518 1085 412.5 1023T223 930V1104Q374 1175 487 1276T647 1472H763Z" transform="translate(0,0) scale(0.006836,-0.006836)" fill="#111" stroke="#111" stroke-width="36"/>
<text x="7.78" y="0" font-family='"Liberation Sans", sans-serif' font-size="14.0" fill="#111" stroke="#111" stroke-width="0.25">0</text>
</g>
<g transform="translate(444.5,549.5) scale(1.0,1)">
<text x="0" y="0" font-family='"Liberation Sans", sans-serif' font-size="9.3" fill="#111" stroke="#111" stroke-width="0.25">7</text>
</g>
<text x="335.75" y="572.8" font-family='"Liberation Serif", serif' font-size="14.4" text-anchor="start" fill="#111" textLength="51.2" lengthAdjust="spacingAndGlyphs"  stroke="#111" stroke-width="0.38">E [GeV]</text>
<path d="M488.77 535.2v-3.6M488.77 309.6v3.6M499.64 535.2v-3.6M499.64 309.6v3.6M507.35 535.2v-3.6M507.35 309.6v3.6M513.33 535.2v-3.6M513.33 309.6v3.6M518.21 535.2v-3.6M518.21 309.6v3.6M522.34 535.2v-3.6M522.34 309.6v3.6M525.92 535.2v-3.6M525.92 309.6v3.6M529.08 535.2v-3.6M529.08 309.6v3.6M531.9 535.2v-6.2M531.9 309.6v6.2M550.47 535.2v-3.6M550.47 309.6v3.6M561.34 535.2v-3.6M561.34 309.6v3.6M569.05 535.2v-3.6M569.05 309.6v3.6M575.03 535.2v-3.6M575.03 309.6v3.6M579.91 535.2v-3.6M579.91 309.6v3.6M584.04 535.2v-3.6M584.04 309.6v3.6M587.62 535.2v-3.6M587.62 309.6v3.6M590.78 535.2v-3.6M590.78 309.6v3.6M593.6 535.2v-6.2M593.6 309.6v6.2M612.17 535.2v-3.6M612.17 309.6v3.6M623.04 535.2v-3.6M623.04 309.6v3.6M630.75 535.2v-3.6M630.75 309.6v3.6M636.73 535.2v-3.6M636.73 309.6v3.6M641.61 535.2v-3.6M641.61 309.6v3.6M645.74 535.2v-3.6M645.74 309.6v3.6M649.32 535.2v-3.6M649.32 309.6v3.6M652.48 535.2v-3.6M652.48 309.6v3.6M655.3 535.2v-6.2M655.3 309.6v6.2M673.87 535.2v-3.6M673.87 309.6v3.6M470.2 520.16h3.6M684.6 520.16h-3.6M470.2 505.12h6.2M684.6 505.12h-6.2M470.2 490.08h3.6M684.6 490.08h-3.6M470.2 475.04h6.2M684.6 475.04h-6.2M470.2 460h3.6M684.6 460h-3.6M470.2 444.96h6.2M684.6 444.96h-6.2M470.2 429.92h3.6M684.6 429.92h-3.6M470.2 414.88h6.2M684.6 414.88h-6.2M470.2 399.84h3.6M684.6 399.84h-3.6M470.2 384.8h6.2M684.6 384.8h-6.2M470.2 369.76h3.6M684.6 369.76h-3.6M470.2 354.72h6.2M684.6 354.72h-6.2M470.2 339.68h3.6M684.6 339.68h-3.6M470.2 324.64h6.2M684.6 324.64h-6.2" stroke="#222" stroke-width="1" fill="none"/>
<rect x="470.2" y="309.6" width="214.4" height="225.6" fill="none" stroke="#333" stroke-width="1"/>
<g transform="translate(459.7,553.9) scale(1.07,1)">
<path d="M763 0H583V1147Q518 1085 412.5 1023T223 930V1104Q374 1175 487 1276T647 1472H763Z" transform="translate(0,0) scale(0.006836,-0.006836)" fill="#111" stroke="#111" stroke-width="36"/>
<text x="7.78" y="0" font-family='"Liberation Sans", sans-serif' font-size="14.0" fill="#111" stroke="#111" stroke-width="0.25">0</text>
</g>
<g transform="translate(476.1,549.5) scale(1.0,1)">
<text x="0" y="0" font-family='"Liberation Sans", sans-serif' font-size="9.3" fill="#111" stroke="#111" stroke-width="0.25">4</text>
</g>
<g transform="translate(521.4,553.9) scale(1.07,1)">
<path d="M763 0H583V1147Q518 1085 412.5 1023T223 930V1104Q374 1175 487 1276T647 1472H763Z" transform="translate(0,0) scale(0.006836,-0.006836)" fill="#111" stroke="#111" stroke-width="36"/>
<text x="7.78" y="0" font-family='"Liberation Sans", sans-serif' font-size="14.0" fill="#111" stroke="#111" stroke-width="0.25">0</text>
</g>
<g transform="translate(537.8,549.5) scale(1.0,1)">
<text x="0" y="0" font-family='"Liberation Sans", sans-serif' font-size="9.3" fill="#111" stroke="#111" stroke-width="0.25">5</text>
</g>
<g transform="translate(583.1,553.9) scale(1.07,1)">
<path d="M763 0H583V1147Q518 1085 412.5 1023T223 930V1104Q374 1175 487 1276T647 1472H763Z" transform="translate(0,0) scale(0.006836,-0.006836)" fill="#111" stroke="#111" stroke-width="36"/>
<text x="7.78" y="0" font-family='"Liberation Sans", sans-serif' font-size="14.0" fill="#111" stroke="#111" stroke-width="0.25">0</text>
</g>
<g transform="translate(599.5,549.5) scale(1.0,1)">
<text x="0" y="0" font-family='"Liberation Sans", sans-serif' font-size="9.3" fill="#111" stroke="#111" stroke-width="0.25">6</text>
</g>
<g transform="translate(644.8,553.9) scale(1.07,1)">
<path d="M763 0H583V1147Q518 1085 412.5 1023T223 930V1104Q374 1175 487 1276T647 1472H763Z" transform="translate(0,0) scale(0.006836,-0.006836)" fill="#111" stroke="#111" stroke-width="36"/>
<text x="7.78" y="0" font-family='"Liberation Sans", sans-serif' font-size="14.0" fill="#111" stroke="#111" stroke-width="0.25">0</text>
</g>
<g transform="translate(661.2,549.5) scale(1.0,1)">
<text x="0" y="0" font-family='"Liberation Sans", sans-serif' font-size="9.3" fill="#111" stroke="#111" stroke-width="0.25">7</text>
</g>
<text x="552.3" y="572.8" font-family='"Liberation Serif", serif' font-size="14.4" text-anchor="start" fill="#111" textLength="51.2" lengthAdjust="spacingAndGlyphs"  stroke="#111" stroke-width="0.38">E [GeV]</text>
<g transform="translate(27.66,539.4) scale(1.02,1)">
<text x="0" y="0" font-family='"Liberation Sans", sans-serif' font-size="11.7" fill="#111" stroke="#111" stroke-width="0.25">0</text>
</g>
<g transform="translate(17.71,509.32) scale(1.02,1)">
<text x="0" y="0" font-family='"Liberation Sans", sans-serif' font-size="11.7" fill="#111" stroke="#111" stroke-width="0.25">0</text>
<text x="6.51" y="0" font-family='"Liberation Sans", sans-serif' font-size="11.7" fill="#111" stroke="#111" stroke-width="0.25">.</text>
<path d="M763 0H583V1147Q518 1085 412.5 1023T223 930V1104Q374 1175 487 1276T647 1472H763Z" transform="translate(9.76,0) scale(0.005713,-0.005713)" fill="#111" stroke="#111" stroke-width="43"/>
</g>
<g transform="translate(17.71,479.24) scale(1.02,1)">
<text x="0" y="0" font-family='"Liberation Sans", sans-serif' font-size="11.7" fill="#111" stroke="#111" stroke-width="0.25">0</text>
<text x="6.51" y="0" font-family='"Liberation Sans", sans-serif' font-size="11.7" fill="#111" stroke="#111" stroke-width="0.25">.</text>
<text x="9.76" y="0" font-family='"Liberation Sans", sans-serif' font-size="11.7" fill="#111" stroke="#111" stroke-width="0.25">2</text>
</g>
<g transform="translate(17.71,449.16) scale(1.02,1)">
<text x="0" y="0" font-family='"Liberation Sans", sans-serif' font-size="11.7" fill="#111" stroke="#111" stroke-width="0.25">0</text>
<text x="6.51" y="0" font-family='"Liberation Sans", sans-serif' font-size="11.7" fill="#111" stroke="#111" stroke-width="0.25">.</text>
<text x="9.76" y="0" font-family='"Liberation Sans", sans-serif' font-size="11.7" fill="#111" stroke="#111" stroke-width="0.25">3</text>
</g>
<g transform="translate(17.71,419.08) scale(1.02,1)">
<text x="0" y="0" font-family='"Liberation Sans", sans-serif' font-size="11.7" fill="#111" stroke="#111" stroke-width="0.25">0</text>
<text x="6.51" y="0" font-family='"Liberation Sans", sans-serif' font-size="11.7" fill="#111" stroke="#111" stroke-width="0.25">.</text>
<text x="9.76" y="0" font-family='"Liberation Sans", sans-serif' font-size="11.7" fill="#111" stroke="#111" stroke-width="0.25">4</text>
</g>
<g transform="translate(17.71,389) scale(1.02,1)">
<text x="0" y="0" font-family='"Liberation Sans", sans-serif' font-size="11.7" fill="#111" stroke="#111" stroke-width="0.25">0</text>
<text x="6.51" y="0" font-family='"Liberation Sans", sans-serif' font-size="11.7" fill="#111" stroke="#111" stroke-width="0.25">.</text>
<text x="9.76" y="0" font-family='"Liberation Sans", sans-serif' font-size="11.7" fill="#111" stroke="#111" stroke-width="0.25">5</text>
</g>
<g transform="translate(17.71,358.92) scale(1.02,1)">
<text x="0" y="0" font-family='"Liberation Sans", sans-serif' font-size="11.7" fill="#111" stroke="#111" stroke-width="0.25">0</text>
<text x="6.51" y="0" font-family='"Liberation Sans", sans-serif' font-size="11.7" fill="#111" stroke="#111" stroke-width="0.25">.</text>
<text x="9.76" y="0" font-family='"Liberation Sans", sans-serif' font-size="11.7" fill="#111" stroke="#111" stroke-width="0.25">6</text>
</g>
<g transform="translate(17.71,328.84) scale(1.02,1)">
<text x="0" y="0" font-family='"Liberation Sans", sans-serif' font-size="11.7" fill="#111" stroke="#111" stroke-width="0.25">0</text>
<text x="6.51" y="0" font-family='"Liberation Sans", sans-serif' font-size="11.7" fill="#111" stroke="#111" stroke-width="0.25">.</text>
<text x="9.76" y="0" font-family='"Liberation Sans", sans-serif' font-size="11.7" fill="#111" stroke="#111" stroke-width="0.25">7</text>
</g>
<g transform="translate(10.9,430.7) rotate(-90)">
<text x="0" y="0" font-family='"Liberation Serif", serif' font-size="15.0" text-anchor="start" fill="#111" textLength="5.8" lengthAdjust="spacingAndGlyphs"  stroke="#111" stroke-width="0.38">f</text>
<text x="5.6" y="2.2" font-family='"Liberation Serif", serif' font-size="10.5" text-anchor="start" fill="#111"  stroke="#111" stroke-width="0.38">α</text>
</g>
<path d="M55.97 828.1v-3.6M55.97 602.9v3.6M66.84 828.1v-3.6M66.84 602.9v3.6M74.55 828.1v-3.6M74.55 602.9v3.6M80.53 828.1v-3.6M80.53 602.9v3.6M85.41 828.1v-3.6M85.41 602.9v3.6M89.54 828.1v-3.6M89.54 602.9v3.6M93.12 828.1v-3.6M93.12 602.9v3.6M96.28 828.1v-3.6M96.28 602.9v3.6M99.1 828.1v-6.2M99.1 602.9v6.2M117.67 828.1v-3.6M117.67 602.9v3.6M128.54 828.1v-3.6M128.54 602.9v3.6M136.25 828.1v-3.6M136.25 602.9v3.6M142.23 828.1v-3.6M142.23 602.9v3.6M147.11 828.1v-3.6M147.11 602.9v3.6M151.24 828.1v-3.6M151.24 602.9v3.6M154.82 828.1v-3.6M154.82 602.9v3.6M157.98 828.1v-3.6M157.98 602.9v3.6M160.8 828.1v-6.2M160.8 602.9v6.2M179.37 828.1v-3.6M179.37 602.9v3.6M190.24 828.1v-3.6M190.24 602.9v3.6M197.95 828.1v-3.6M197.95 602.9v3.6M203.93 828.1v-3.6M203.93 602.9v3.6M208.81 828.1v-3.6M208.81 602.9v3.6M212.94 828.1v-3.6M212.94 602.9v3.6M216.52 828.1v-3.6M216.52 602.9v3.6M219.68 828.1v-3.6M219.68 602.9v3.6M222.5 828.1v-6.2M222.5 602.9v6.2M241.07 828.1v-3.6M241.07 602.9v3.6M37.4 812.66h3.6M251.6 812.66h-3.6M37.4 797.22h6.2M251.6 797.22h-6.2M37.4 781.78h3.6M251.6 781.78h-3.6M37.4 766.34h6.2M251.6 766.34h-6.2M37.4 750.9h3.6M251.6 750.9h-3.6M37.4 735.46h6.2M251.6 735.46h-6.2M37.4 720.02h3.6M251.6 720.02h-3.6M37.4 704.58h6.2M251.6 704.58h-6.2M37.4 689.14h3.6M251.6 689.14h-3.6M37.4 673.7h6.2M251.6 673.7h-6.2M37.4 658.26h3.6M251.6 658.26h-3.6M37.4 642.82h6.2M251.6 642.82h-6.2M37.4 627.38h3.6M251.6 627.38h-3.6M37.4 611.94h6.2M251.6 611.94h-6.2" stroke="#222" stroke-width="1" fill="none"/>
<rect x="37.4" y="602.9" width="214.2" height="225.2" fill="none" stroke="#333" stroke-width="1"/>
<g transform="translate(26.9,846.8) scale(1.07,1)">
<path d="M763 0H583V1147Q518 1085 412.5 1023T223 930V1104Q374 1175 487 1276T647 1472H763Z" transform="translate(0,0) scale(0.006836,-0.006836)" fill="#111" stroke="#111" stroke-width="36"/>
<text x="7.78" y="0" font-family='"Liberation Sans", sans-serif' font-size="14.0" fill="#111" stroke="#111" stroke-width="0.25">0</text>
</g>
<g transform="translate(43.3,842.4) scale(1.0,1)">
<text x="0" y="0" font-family='"Liberation Sans", sans-serif' font-size="9.3" fill="#111" stroke="#111" stroke-width="0.25">4</text>
</g>
<g transform="translate(88.6,846.8) scale(1.07,1)">
<path d="M763 0H583V1147Q518 1085 412.5 1023T223 930V1104Q374 1175 487 1276T647 1472H763Z" transform="translate(0,0) scale(0.006836,-0.006836)" fill="#111" stroke="#111" stroke-width="36"/>
<text x="7.78" y="0" font-family='"Liberation Sans", sans-serif' font-size="14.0" fill="#111" stroke="#111" stroke-width="0.25">0</text>
</g>
<g transform="translate(105,842.4) scale(1.0,1)">
<text x="0" y="0" font-family='"Liberation Sans", sans-serif' font-size="9.3" fill="#111" stroke="#111" stroke-width="0.25">5</text>
</g>
<g transform="translate(150.3,846.8) scale(1.07,1)">
<path d="M763 0H583V1147Q518 1085 412.5 1023T223 930V1104Q374 1175 487 1276T647 1472H763Z" transform="translate(0,0) scale(0.006836,-0.006836)" fill="#111" stroke="#111" stroke-width="36"/>
<text x="7.78" y="0" font-family='"Liberation Sans", sans-serif' font-size="14.0" fill="#111" stroke="#111" stroke-width="0.25">0</text>
</g>
<g transform="translate(166.7,842.4) scale(1.0,1)">
<text x="0" y="0" font-family='"Liberation Sans", sans-serif' font-size="9.3" fill="#111" stroke="#111" stroke-width="0.25">6</text>
</g>
<g transform="translate(212,846.8) scale(1.07,1)">
<path d="M763 0H583V1147Q518 1085 412.5 1023T223 930V1104Q374 1175 487 1276T647 1472H763Z" transform="translate(0,0) scale(0.006836,-0.006836)" fill="#111" stroke="#111" stroke-width="36"/>
<text x="7.78" y="0" font-family='"Liberation Sans", sans-serif' font-size="14.0" fill="#111" stroke="#111" stroke-width="0.25">0</text>
</g>
<g transform="translate(228.4,842.4) scale(1.0,1)">
<text x="0" y="0" font-family='"Liberation Sans", sans-serif' font-size="9.3" fill="#111" stroke="#111" stroke-width="0.25">7</text>
</g>
<text x="119.4" y="865.7" font-family='"Liberation Serif", serif' font-size="14.4" text-anchor="start" fill="#111" textLength="51.2" lengthAdjust="spacingAndGlyphs"  stroke="#111" stroke-width="0.38">E [GeV]</text>
<path d="M272.07 828.1v-3.6M272.07 602.9v3.6M282.94 828.1v-3.6M282.94 602.9v3.6M290.65 828.1v-3.6M290.65 602.9v3.6M296.63 828.1v-3.6M296.63 602.9v3.6M301.51 828.1v-3.6M301.51 602.9v3.6M305.64 828.1v-3.6M305.64 602.9v3.6M309.22 828.1v-3.6M309.22 602.9v3.6M312.38 828.1v-3.6M312.38 602.9v3.6M315.2 828.1v-6.2M315.2 602.9v6.2M333.77 828.1v-3.6M333.77 602.9v3.6M344.64 828.1v-3.6M344.64 602.9v3.6M352.35 828.1v-3.6M352.35 602.9v3.6M358.33 828.1v-3.6M358.33 602.9v3.6M363.21 828.1v-3.6M363.21 602.9v3.6M367.34 828.1v-3.6M367.34 602.9v3.6M370.92 828.1v-3.6M370.92 602.9v3.6M374.08 828.1v-3.6M374.08 602.9v3.6M376.9 828.1v-6.2M376.9 602.9v6.2M395.47 828.1v-3.6M395.47 602.9v3.6M406.34 828.1v-3.6M406.34 602.9v3.6M414.05 828.1v-3.6M414.05 602.9v3.6M420.03 828.1v-3.6M420.03 602.9v3.6M424.91 828.1v-3.6M424.91 602.9v3.6M429.04 828.1v-3.6M429.04 602.9v3.6M432.62 828.1v-3.6M432.62 602.9v3.6M435.78 828.1v-3.6M435.78 602.9v3.6M438.6 828.1v-6.2M438.6 602.9v6.2M457.17 828.1v-3.6M457.17 602.9v3.6M253.5 812.66h3.6M468.2 812.66h-3.6M253.5 797.22h6.2M468.2 797.22h-6.2M253.5 781.78h3.6M468.2 781.78h-3.6M253.5 766.34h6.2M468.2 766.34h-6.2M253.5 750.9h3.6M468.2 750.9h-3.6M253.5 735.46h6.2M468.2 735.46h-6.2M253.5 720.02h3.6M468.2 720.02h-3.6M253.5 704.58h6.2M468.2 704.58h-6.2M253.5 689.14h3.6M468.2 689.14h-3.6M253.5 673.7h6.2M468.2 673.7h-6.2M253.5 658.26h3.6M468.2 658.26h-3.6M253.5 642.82h6.2M468.2 642.82h-6.2M253.5 627.38h3.6M468.2 627.38h-3.6M253.5 611.94h6.2M468.2 611.94h-6.2" stroke="#222" stroke-width="1" fill="none"/>
<rect x="253.5" y="602.9" width="214.7" height="225.2" fill="none" stroke="#333" stroke-width="1"/>
<g transform="translate(243,846.8) scale(1.07,1)">
<path d="M763 0H583V1147Q518 1085 412.5 1023T223 930V1104Q374 1175 487 1276T647 1472H763Z" transform="translate(0,0) scale(0.006836,-0.006836)" fill="#111" stroke="#111" stroke-width="36"/>
<text x="7.78" y="0" font-family='"Liberation Sans", sans-serif' font-size="14.0" fill="#111" stroke="#111" stroke-width="0.25">0</text>
</g>
<g transform="translate(259.4,842.4) scale(1.0,1)">
<text x="0" y="0" font-family='"Liberation Sans", sans-serif' font-size="9.3" fill="#111" stroke="#111" stroke-width="0.25">4</text>
</g>
<g transform="translate(304.7,846.8) scale(1.07,1)">
<path d="M763 0H583V1147Q518 1085 412.5 1023T223 930V1104Q374 1175 487 1276T647 1472H763Z" transform="translate(0,0) scale(0.006836,-0.006836)" fill="#111" stroke="#111" stroke-width="36"/>
<text x="7.78" y="0" font-family='"Liberation Sans", sans-serif' font-size="14.0" fill="#111" stroke="#111" stroke-width="0.25">0</text>
</g>
<g transform="translate(321.1,842.4) scale(1.0,1)">
<text x="0" y="0" font-family='"Liberation Sans", sans-serif' font-size="9.3" fill="#111" stroke="#111" stroke-width="0.25">5</text>
</g>
<g transform="translate(366.4,846.8) scale(1.07,1)">
<path d="M763 0H583V1147Q518 1085 412.5 1023T223 930V1104Q374 1175 487 1276T647 1472H763Z" transform="translate(0,0) scale(0.006836,-0.006836)" fill="#111" stroke="#111" stroke-width="36"/>
<text x="7.78" y="0" font-family='"Liberation Sans", sans-serif' font-size="14.0" fill="#111" stroke="#111" stroke-width="0.25">0</text>
</g>
<g transform="translate(382.8,842.4) scale(1.0,1)">
<text x="0" y="0" font-family='"Liberation Sans", sans-serif' font-size="9.3" fill="#111" stroke="#111" stroke-width="0.25">6</text>
</g>
<g transform="translate(428.1,846.8) scale(1.07,1)">
<path d="M763 0H583V1147Q518 1085 412.5 1023T223 930V1104Q374 1175 487 1276T647 1472H763Z" transform="translate(0,0) scale(0.006836,-0.006836)" fill="#111" stroke="#111" stroke-width="36"/>
<text x="7.78" y="0" font-family='"Liberation Sans", sans-serif' font-size="14.0" fill="#111" stroke="#111" stroke-width="0.25">0</text>
</g>
<g transform="translate(444.5,842.4) scale(1.0,1)">
<text x="0" y="0" font-family='"Liberation Sans", sans-serif' font-size="9.3" fill="#111" stroke="#111" stroke-width="0.25">7</text>
</g>
<text x="335.75" y="865.7" font-family='"Liberation Serif", serif' font-size="14.4" text-anchor="start" fill="#111" textLength="51.2" lengthAdjust="spacingAndGlyphs"  stroke="#111" stroke-width="0.38">E [GeV]</text>
<path d="M488.77 828.1v-3.6M488.77 602.9v3.6M499.64 828.1v-3.6M499.64 602.9v3.6M507.35 828.1v-3.6M507.35 602.9v3.6M513.33 828.1v-3.6M513.33 602.9v3.6M518.21 828.1v-3.6M518.21 602.9v3.6M522.34 828.1v-3.6M522.34 602.9v3.6M525.92 828.1v-3.6M525.92 602.9v3.6M529.08 828.1v-3.6M529.08 602.9v3.6M531.9 828.1v-6.2M531.9 602.9v6.2M550.47 828.1v-3.6M550.47 602.9v3.6M561.34 828.1v-3.6M561.34 602.9v3.6M569.05 828.1v-3.6M569.05 602.9v3.6M575.03 828.1v-3.6M575.03 602.9v3.6M579.91 828.1v-3.6M579.91 602.9v3.6M584.04 828.1v-3.6M584.04 602.9v3.6M587.62 828.1v-3.6M587.62 602.9v3.6M590.78 828.1v-3.6M590.78 602.9v3.6M593.6 828.1v-6.2M593.6 602.9v6.2M612.17 828.1v-3.6M612.17 602.9v3.6M623.04 828.1v-3.6M623.04 602.9v3.6M630.75 828.1v-3.6M630.75 602.9v3.6M636.73 828.1v-3.6M636.73 602.9v3.6M641.61 828.1v-3.6M641.61 602.9v3.6M645.74 828.1v-3.6M645.74 602.9v3.6M649.32 828.1v-3.6M649.32 602.9v3.6M652.48 828.1v-3.6M652.48 602.9v3.6M655.3 828.1v-6.2M655.3 602.9v6.2M673.87 828.1v-3.6M673.87 602.9v3.6M470.2 812.66h3.6M684.6 812.66h-3.6M470.2 797.22h6.2M684.6 797.22h-6.2M470.2 781.78h3.6M684.6 781.78h-3.6M470.2 766.34h6.2M684.6 766.34h-6.2M470.2 750.9h3.6M684.6 750.9h-3.6M470.2 735.46h6.2M684.6 735.46h-6.2M470.2 720.02h3.6M684.6 720.02h-3.6M470.2 704.58h6.2M684.6 704.58h-6.2M470.2 689.14h3.6M684.6 689.14h-3.6M470.2 673.7h6.2M684.6 673.7h-6.2M470.2 658.26h3.6M684.6 658.26h-3.6M470.2 642.82h6.2M684.6 642.82h-6.2M470.2 627.38h3.6M684.6 627.38h-3.6M470.2 611.94h6.2M684.6 611.94h-6.2" stroke="#222" stroke-width="1" fill="none"/>
<rect x="470.2" y="602.9" width="214.4" height="225.2" fill="none" stroke="#333" stroke-width="1"/>
<g transform="translate(459.7,846.8) scale(1.07,1)">
<path d="M763 0H583V1147Q518 1085 412.5 1023T223 930V1104Q374 1175 487 1276T647 1472H763Z" transform="translate(0,0) scale(0.006836,-0.006836)" fill="#111" stroke="#111" stroke-width="36"/>
<text x="7.78" y="0" font-family='"Liberation Sans", sans-serif' font-size="14.0" fill="#111" stroke="#111" stroke-width="0.25">0</text>
</g>
<g transform="translate(476.1,842.4) scale(1.0,1)">
<text x="0" y="0" font-family='"Liberation Sans", sans-serif' font-size="9.3" fill="#111" stroke="#111" stroke-width="0.25">4</text>
</g>
<g transform="translate(521.4,846.8) scale(1.07,1)">
<path d="M763 0H583V1147Q518 1085 412.5 1023T223 930V1104Q374 1175 487 1276T647 1472H763Z" transform="translate(0,0) scale(0.006836,-0.006836)" fill="#111" stroke="#111" stroke-width="36"/>
<text x="7.78" y="0" font-family='"Liberation Sans", sans-serif' font-size="14.0" fill="#111" stroke="#111" stroke-width="0.25">0</text>
</g>
<g transform="translate(537.8,842.4) scale(1.0,1)">
<text x="0" y="0" font-family='"Liberation Sans", sans-serif' font-size="9.3" fill="#111" stroke="#111" stroke-width="0.25">5</text>
</g>
<g transform="translate(583.1,846.8) scale(1.07,1)">
<path d="M763 0H583V1147Q518 1085 412.5 1023T223 930V1104Q374 1175 487 1276T647 1472H763Z" transform="translate(0,0) scale(0.006836,-0.006836)" fill="#111" stroke="#111" stroke-width="36"/>
<text x="7.78" y="0" font-family='"Liberation Sans", sans-serif' font-size="14.0" fill="#111" stroke="#111" stroke-width="0.25">0</text>
</g>
<g transform="translate(599.5,842.4) scale(1.0,1)">
<text x="0" y="0" font-family='"Liberation Sans", sans-serif' font-size="9.3" fill="#111" stroke="#111" stroke-width="0.25">6</text>
</g>
<g transform="translate(644.8,846.8) scale(1.07,1)">
<path d="M763 0H583V1147Q518 1085 412.5 1023T223 930V1104Q374 1175 487 1276T647 1472H763Z" transform="translate(0,0) scale(0.006836,-0.006836)" fill="#111" stroke="#111" stroke-width="36"/>
<text x="7.78" y="0" font-family='"Liberation Sans", sans-serif' font-size="14.0" fill="#111" stroke="#111" stroke-width="0.25">0</text>
</g>
<g transform="translate(661.2,842.4) scale(1.0,1)">
<text x="0" y="0" font-family='"Liberation Sans", sans-serif' font-size="9.3" fill="#111" stroke="#111" stroke-width="0.25">7</text>
</g>
<text x="552.3" y="865.7" font-family='"Liberation Serif", serif' font-size="14.4" text-anchor="start" fill="#111" textLength="51.2" lengthAdjust="spacingAndGlyphs"  stroke="#111" stroke-width="0.38">E [GeV]</text>
<g transform="translate(27.66,832.3) scale(1.02,1)">
<text x="0" y="0" font-family='"Liberation Sans", sans-serif' font-size="11.7" fill="#111" stroke="#111" stroke-width="0.25">0</text>
</g>
<g transform="translate(17.71,801.42) scale(1.02,1)">
<text x="0" y="0" font-family='"Liberation Sans", sans-serif' font-size="11.7" fill="#111" stroke="#111" stroke-width="0.25">0</text>
<text x="6.51" y="0" font-family='"Liberation Sans", sans-serif' font-size="11.7" fill="#111" stroke="#111" stroke-width="0.25">.</text>
<path d="M763 0H583V1147Q518 1085 412.5 1023T223 930V1104Q374 1175 487 1276T647 1472H763Z" transform="translate(9.76,0) scale(0.005713,-0.005713)" fill="#111" stroke="#111" stroke-width="43"/>
</g>
<g transform="translate(17.71,770.54) scale(1.02,1)">
<text x="0" y="0" font-family='"Liberation Sans", sans-serif' font-size="11.7" fill="#111" stroke="#111" stroke-width="0.25">0</text>
<text x="6.51" y="0" font-family='"Liberation Sans", sans-serif' font-size="11.7" fill="#111" stroke="#111" stroke-width="0.25">.</text>
<text x="9.76" y="0" font-family='"Liberation Sans", sans-serif' font-size="11.7" fill="#111" stroke="#111" stroke-width="0.25">2</text>
</g>
<g transform="translate(17.71,739.66) scale(1.02,1)">
<text x="0" y="0" font-family='"Liberation Sans", sans-serif' font-size="11.7" fill="#111" stroke="#111" stroke-width="0.25">0</text>
<text x="6.51" y="0" font-family='"Liberation Sans", sans-serif' font-size="11.7" fill="#111" stroke="#111" stroke-width="0.25">.</text>
<text x="9.76" y="0" font-family='"Liberation Sans", sans-serif' font-size="11.7" fill="#111" stroke="#111" stroke-width="0.25">3</text>
</g>
<g transform="translate(17.71,708.78) scale(1.02,1)">
<text x="0" y="0" font-family='"Liberation Sans", sans-serif' font-size="11.7" fill="#111" stroke="#111" stroke-width="0.25">0</text>
<text x="6.51" y="0" font-family='"Liberation Sans", sans-serif' font-size="11.7" fill="#111" stroke="#111" stroke-width="0.25">.</text>
<text x="9.76" y="0" font-family='"Liberation Sans", sans-serif' font-size="11.7" fill="#111" stroke="#111" stroke-width="0.25">4</text>
</g>
<g transform="translate(17.71,677.9) scale(1.02,1)">
<text x="0" y="0" font-family='"Liberation Sans", sans-serif' font-size="11.7" fill="#111" stroke="#111" stroke-width="0.25">0</text>
<text x="6.51" y="0" font-family='"Liberation Sans", sans-serif' font-size="11.7" fill="#111" stroke="#111" stroke-width="0.25">.</text>
<text x="9.76" y="0" font-family='"Liberation Sans", sans-serif' font-size="11.7" fill="#111" stroke="#111" stroke-width="0.25">5</text>
</g>
<g transform="translate(17.71,647.02) scale(1.02,1)">
<text x="0" y="0" font-family='"Liberation Sans", sans-serif' font-size="11.7" fill="#111" stroke="#111" stroke-width="0.25">0</text>
<text x="6.51" y="0" font-family='"Liberation Sans", sans-serif' font-size="11.7" fill="#111" stroke="#111" stroke-width="0.25">.</text>
<text x="9.76" y="0" font-family='"Liberation Sans", sans-serif' font-size="11.7" fill="#111" stroke="#111" stroke-width="0.25">6</text>
</g>
<g transform="translate(17.71,616.14) scale(1.02,1)">
<text x="0" y="0" font-family='"Liberation Sans", sans-serif' font-size="11.7" fill="#111" stroke="#111" stroke-width="0.25">0</text>
<text x="6.51" y="0" font-family='"Liberation Sans", sans-serif' font-size="11.7" fill="#111" stroke="#111" stroke-width="0.25">.</text>
<text x="9.76" y="0" font-family='"Liberation Sans", sans-serif' font-size="11.7" fill="#111" stroke="#111" stroke-width="0.25">7</text>
</g>
<g transform="translate(10.9,723.8) rotate(-90)">
<text x="0" y="0" font-family='"Liberation Serif", serif' font-size="15.0" text-anchor="start" fill="#111" textLength="5.8" lengthAdjust="spacingAndGlyphs"  stroke="#111" stroke-width="0.38">f</text>
<text x="5.6" y="2.2" font-family='"Liberation Serif", serif' font-size="10.5" text-anchor="start" fill="#111"  stroke="#111" stroke-width="0.38">α</text>
</g>
<text x="73.3" y="11.4" font-family='"Liberation Serif", serif' font-size="13.7" text-anchor="start" fill="#111" textLength="5.4" lengthAdjust="spacingAndGlyphs"  stroke="#111" stroke-width="0.38">f</text>
<text x="78.2" y="13.7" font-family='"Liberation Serif", serif' font-size="9.5" text-anchor="start" fill="#111"  stroke="#111" stroke-width="0.38">e</text>
<text x="85.7" y="11.4" font-family='"Liberation Serif", serif' font-size="13.7" text-anchor="start" fill="#111" textLength="57.2" lengthAdjust="spacingAndGlyphs"  stroke="#111" stroke-width="0.38">on Earth,</text>
<text x="146.1" y="11.4" font-family='"Liberation Sans", sans-serif' font-size="12.3" text-anchor="start" fill="#111" stroke="#111" stroke-width="0.35">π</text>
<text x="158.1" y="11.4" font-family='"Liberation Serif", serif' font-size="13.7" text-anchor="start" fill="#111" textLength="47.7" lengthAdjust="spacingAndGlyphs"  stroke="#111" stroke-width="0.38">sources,</text>
<text x="210.2" y="11.4" font-family='"Liberation Serif", serif' font-size="13.7" text-anchor="start" fill="#111" textLength="20.5" lengthAdjust="spacingAndGlyphs"  stroke="#111" stroke-width="0.38">NO</text>
<text x="276.7" y="11.4" font-family='"Liberation Serif", serif' font-size="13.7" text-anchor="start" fill="#111" textLength="5.4" lengthAdjust="spacingAndGlyphs"  stroke="#111" stroke-width="0.38">f</text>
<text x="281.6" y="13.7" font-family='"Liberation Serif", serif' font-size="9.5" text-anchor="start" fill="#111"  stroke="#111" stroke-width="0.38">μ</text>
<text x="289.1" y="11.4" font-family='"Liberation Serif", serif' font-size="13.7" text-anchor="start" fill="#111" textLength="57.2" lengthAdjust="spacingAndGlyphs"  stroke="#111" stroke-width="0.38">on Earth,</text>
<text x="349.5" y="11.4" font-family='"Liberation Sans", sans-serif' font-size="12.3" text-anchor="start" fill="#111" stroke="#111" stroke-width="0.35">π</text>
<text x="361.5" y="11.4" font-family='"Liberation Serif", serif' font-size="13.7" text-anchor="start" fill="#111" textLength="47.7" lengthAdjust="spacingAndGlyphs"  stroke="#111" stroke-width="0.38">sources,</text>
<text x="413.6" y="11.4" font-family='"Liberation Serif", serif' font-size="13.7" text-anchor="start" fill="#111" textLength="21.6" lengthAdjust="spacingAndGlyphs"  stroke="#111" stroke-width="0.38">NO</text>
<text x="513.1" y="11.4" font-family='"Liberation Serif", serif' font-size="13.7" text-anchor="start" fill="#111" textLength="5.4" lengthAdjust="spacingAndGlyphs"  stroke="#111" stroke-width="0.38">f</text>
<text x="518" y="13.7" font-family='"Liberation Serif", serif' font-size="9.5" text-anchor="start" fill="#111"  stroke="#111" stroke-width="0.38">τ</text>
<text x="525.5" y="11.4" font-family='"Liberation Serif", serif' font-size="13.7" text-anchor="start" fill="#111" textLength="57.2" lengthAdjust="spacingAndGlyphs"  stroke="#111" stroke-width="0.38">on Earth,</text>
<text x="585.9" y="11.4" font-family='"Liberation Sans", sans-serif' font-size="12.3" text-anchor="start" fill="#111" stroke="#111" stroke-width="0.35">π</text>
<text x="597.9" y="11.4" font-family='"Liberation Serif", serif' font-size="13.7" text-anchor="start" fill="#111" textLength="47.7" lengthAdjust="spacingAndGlyphs"  stroke="#111" stroke-width="0.38">sources,</text>
<text x="650" y="11.4" font-family='"Liberation Serif", serif' font-size="13.7" text-anchor="start" fill="#111" textLength="20.2" lengthAdjust="spacingAndGlyphs"  stroke="#111" stroke-width="0.38">NO</text>
<text x="56.9" y="303.6" font-family='"Liberation Serif", serif' font-size="13.7" text-anchor="start" fill="#111" textLength="5.4" lengthAdjust="spacingAndGlyphs"  stroke="#111" stroke-width="0.38">f</text>
<text x="61.8" y="305.9" font-family='"Liberation Serif", serif' font-size="9.5" text-anchor="start" fill="#111"  stroke="#111" stroke-width="0.38">e</text>
<text x="69.3" y="303.6" font-family='"Liberation Serif", serif' font-size="13.7" text-anchor="start" fill="#111" textLength="57.2" lengthAdjust="spacingAndGlyphs"  stroke="#111" stroke-width="0.38">on Earth,</text>
<text x="130.8" y="303.6" font-family='"Liberation Serif", serif' font-size="13.7" text-anchor="start" fill="#111" textLength="58.7" lengthAdjust="spacingAndGlyphs"  stroke="#111" stroke-width="0.38">μ-damped</text>
<text x="194.4" y="303.6" font-family='"Liberation Serif", serif' font-size="13.7" text-anchor="start" fill="#111" textLength="24.2" lengthAdjust="spacingAndGlyphs"  stroke="#111" stroke-width="0.38">scs.,</text>
<text x="223.3" y="303.6" font-family='"Liberation Serif", serif' font-size="13.7" text-anchor="start" fill="#111" textLength="20.4" lengthAdjust="spacingAndGlyphs"  stroke="#111" stroke-width="0.38">NO</text>
<text x="275.7" y="303.6" font-family='"Liberation Serif", serif' font-size="13.7" text-anchor="start" fill="#111" textLength="5.4" lengthAdjust="spacingAndGlyphs"  stroke="#111" stroke-width="0.38">f</text>
<text x="280.6" y="305.9" font-family='"Liberation Serif", serif' font-size="9.5" text-anchor="start" fill="#111"  stroke="#111" stroke-width="0.38">μ</text>
<text x="288.1" y="303.6" font-family='"Liberation Serif", serif' font-size="13.7" text-anchor="start" fill="#111" textLength="57.2" lengthAdjust="spacingAndGlyphs"  stroke="#111" stroke-width="0.38">on Earth,</text>
<text x="349.6" y="303.6" font-family='"Liberation Serif", serif' font-size="13.7" text-anchor="start" fill="#111" textLength="58.7" lengthAdjust="spacingAndGlyphs"  stroke="#111" stroke-width="0.38">μ-damped</text>
<text x="413.2" y="303.6" font-family='"Liberation Serif", serif' font-size="13.7" text-anchor="start" fill="#111" textLength="24.2" lengthAdjust="spacingAndGlyphs"  stroke="#111" stroke-width="0.38">scs.,</text>
<text x="442.1" y="303.6" font-family='"Liberation Serif", serif' font-size="13.7" text-anchor="start" fill="#111" textLength="21.4" lengthAdjust="spacingAndGlyphs"  stroke="#111" stroke-width="0.38">NO</text>
<text x="488.5" y="303.6" font-family='"Liberation Serif", serif' font-size="13.7" text-anchor="start" fill="#111" textLength="5.4" lengthAdjust="spacingAndGlyphs"  stroke="#111" stroke-width="0.38">f</text>
<text x="493.4" y="305.9" font-family='"Liberation Serif", serif' font-size="9.5" text-anchor="start" fill="#111"  stroke="#111" stroke-width="0.38">τ</text>
<text x="500.9" y="303.6" font-family='"Liberation Serif", serif' font-size="13.7" text-anchor="start" fill="#111" textLength="57.2" lengthAdjust="spacingAndGlyphs"  stroke="#111" stroke-width="0.38">on Earth,</text>
<text x="562.4" y="303.6" font-family='"Liberation Serif", serif' font-size="13.7" text-anchor="start" fill="#111" textLength="58.7" lengthAdjust="spacingAndGlyphs"  stroke="#111" stroke-width="0.38">μ-damped</text>
<text x="626" y="303.6" font-family='"Liberation Serif", serif' font-size="13.7" text-anchor="start" fill="#111" textLength="24.2" lengthAdjust="spacingAndGlyphs"  stroke="#111" stroke-width="0.38">scs.,</text>
<text x="654.9" y="303.6" font-family='"Liberation Serif", serif' font-size="13.7" text-anchor="start" fill="#111" textLength="21.1" lengthAdjust="spacingAndGlyphs"  stroke="#111" stroke-width="0.38">NO</text>
<text x="73.1" y="598.1" font-family='"Liberation Serif", serif' font-size="13.7" text-anchor="start" fill="#111" textLength="5.4" lengthAdjust="spacingAndGlyphs"  stroke="#111" stroke-width="0.38">f</text>
<text x="78" y="600.4" font-family='"Liberation Serif", serif' font-size="9.5" text-anchor="start" fill="#111"  stroke="#111" stroke-width="0.38">e</text>
<text x="85.5" y="598.1" font-family='"Liberation Serif", serif' font-size="13.7" text-anchor="start" fill="#111" textLength="57.2" lengthAdjust="spacingAndGlyphs"  stroke="#111" stroke-width="0.38">on Earth,</text>
<text x="146.7" y="598.1" font-family='"Liberation Serif", serif' font-size="13.7" text-anchor="start" fill="#111" textLength="7.9" lengthAdjust="spacingAndGlyphs"  stroke="#111" stroke-width="0.38">n</text>
<text x="157.6" y="598.1" font-family='"Liberation Serif", serif' font-size="13.7" text-anchor="start" fill="#111" textLength="47.9" lengthAdjust="spacingAndGlyphs"  stroke="#111" stroke-width="0.38">sources,</text>
<text x="210.2" y="598.1" font-family='"Liberation Serif", serif' font-size="13.7" text-anchor="start" fill="#111" textLength="20" lengthAdjust="spacingAndGlyphs"  stroke="#111" stroke-width="0.38">NO</text>
<text x="292.3" y="598.1" font-family='"Liberation Serif", serif' font-size="13.7" text-anchor="start" fill="#111" textLength="5.4" lengthAdjust="spacingAndGlyphs"  stroke="#111" stroke-width="0.38">f</text>
<text x="297.2" y="600.4" font-family='"Liberation Serif", serif' font-size="9.5" text-anchor="start" fill="#111"  stroke="#111" stroke-width="0.38">μ</text>
<text x="304.7" y="598.1" font-family='"Liberation Serif", serif' font-size="13.7" text-anchor="start" fill="#111" textLength="57.2" lengthAdjust="spacingAndGlyphs"  stroke="#111" stroke-width="0.38">on Earth,</text>
<text x="365.9" y="598.1" font-family='"Liberation Serif", serif' font-size="13.7" text-anchor="start" fill="#111" textLength="7.9" lengthAdjust="spacingAndGlyphs"  stroke="#111" stroke-width="0.38">n</text>
<text x="376.8" y="598.1" font-family='"Liberation Serif", serif' font-size="13.7" text-anchor="start" fill="#111" textLength="47.9" lengthAdjust="spacingAndGlyphs"  stroke="#111" stroke-width="0.38">sources,</text>
<text x="429.4" y="598.1" font-family='"Liberation Serif", serif' font-size="13.7" text-anchor="start" fill="#111" textLength="21" lengthAdjust="spacingAndGlyphs"  stroke="#111" stroke-width="0.38">NO</text>
<text x="508.9" y="598.1" font-family='"Liberation Serif", serif' font-size="13.7" text-anchor="start" fill="#111" textLength="5.4" lengthAdjust="spacingAndGlyphs"  stroke="#111" stroke-width="0.38">f</text>
<text x="513.8" y="600.4" font-family='"Liberation Serif", serif' font-size="9.5" text-anchor="start" fill="#111"  stroke="#111" stroke-width="0.38">τ</text>
<text x="521.3" y="598.1" font-family='"Liberation Serif", serif' font-size="13.7" text-anchor="start" fill="#111" textLength="57.2" lengthAdjust="spacingAndGlyphs"  stroke="#111" stroke-width="0.38">on Earth,</text>
<text x="582.5" y="598.1" font-family='"Liberation Serif", serif' font-size="13.7" text-anchor="start" fill="#111" textLength="7.9" lengthAdjust="spacingAndGlyphs"  stroke="#111" stroke-width="0.38">n</text>
<text x="593.4" y="598.1" font-family='"Liberation Serif", serif' font-size="13.7" text-anchor="start" fill="#111" textLength="47.9" lengthAdjust="spacingAndGlyphs"  stroke="#111" stroke-width="0.38">sources,</text>
<text x="646" y="598.1" font-family='"Liberation Serif", serif' font-size="13.7" text-anchor="start" fill="#111" textLength="21.3" lengthAdjust="spacingAndGlyphs"  stroke="#111" stroke-width="0.38">NO</text>
<rect x="46.30" y="22.30" width="23.40" height="26.00" fill="#fff" stroke="#333" stroke-width="1.1"/>
<text x="53.8" y="40.3" font-family='"Liberation Serif", serif' font-size="14.5" text-anchor="start" fill="#111" textLength="5.7" lengthAdjust="spacingAndGlyphs"  stroke="#111" stroke-width="0.38">f</text>
<text x="58.3" y="42.5" font-family='"Liberation Serif", serif' font-size="9.6" text-anchor="start" fill="#111"  stroke="#111" stroke-width="0.38">e</text>
<rect x="263.00" y="19.70" width="24.70" height="25.80" fill="#fff" stroke="#777" stroke-width="1.1"/>
<text x="270.5" y="37.7" font-family='"Liberation Serif", serif' font-size="14.5" text-anchor="start" fill="#111" textLength="5.7" lengthAdjust="spacingAndGlyphs"  stroke="#111" stroke-width="0.38">f</text>
<text x="275" y="39.9" font-family='"Liberation Serif", serif' font-size="9.6" text-anchor="start" fill="#111"  stroke="#111" stroke-width="0.38">μ</text>
<rect x="482.60" y="21.30" width="24.10" height="26.10" fill="#fff" stroke="#333" stroke-width="1.1"/>
<text x="490.1" y="39.3" font-family='"Liberation Serif", serif' font-size="14.5" text-anchor="start" fill="#111" textLength="5.7" lengthAdjust="spacingAndGlyphs"  stroke="#111" stroke-width="0.38">f</text>
<text x="494.6" y="41.5" font-family='"Liberation Serif", serif' font-size="9.6" text-anchor="start" fill="#111"  stroke="#111" stroke-width="0.38">τ</text>
<rect x="218.50" y="318.00" width="23.00" height="25.70" fill="#fff" stroke="#333" stroke-width="1.1"/>
<text x="226" y="336" font-family='"Liberation Serif", serif' font-size="14.5" text-anchor="start" fill="#111" textLength="5.7" lengthAdjust="spacingAndGlyphs"  stroke="#111" stroke-width="0.38">f</text>
<text x="230.5" y="338.2" font-family='"Liberation Serif", serif' font-size="9.6" text-anchor="start" fill="#111"  stroke="#111" stroke-width="0.38">e</text>
<rect x="431.50" y="319.80" width="25.00" height="25.70" fill="#fff" stroke="#555" stroke-width="1.1"/>
<text x="439" y="337.8" font-family='"Liberation Serif", serif' font-size="14.5" text-anchor="start" fill="#111" textLength="5.7" lengthAdjust="spacingAndGlyphs"  stroke="#111" stroke-width="0.38">f</text>
<text x="443.5" y="340" font-family='"Liberation Serif", serif' font-size="9.6" text-anchor="start" fill="#111"  stroke="#111" stroke-width="0.38">μ</text>
<rect x="650.30" y="319.80" width="24.50" height="25.70" fill="#fff" stroke="#333" stroke-width="1.1"/>
<text x="657.8" y="337.8" font-family='"Liberation Serif", serif' font-size="14.5" text-anchor="start" fill="#111" textLength="5.7" lengthAdjust="spacingAndGlyphs"  stroke="#111" stroke-width="0.38">f</text>
<text x="662.3" y="340" font-family='"Liberation Serif", serif' font-size="9.6" text-anchor="start" fill="#111"  stroke="#111" stroke-width="0.38">τ</text>
<rect x="46.30" y="610.40" width="23.40" height="26.10" fill="#fff" stroke="#333" stroke-width="1.1"/>
<text x="53.8" y="628.4" font-family='"Liberation Serif", serif' font-size="14.5" text-anchor="start" fill="#111" textLength="5.7" lengthAdjust="spacingAndGlyphs"  stroke="#111" stroke-width="0.38">f</text>
<text x="58.3" y="630.6" font-family='"Liberation Serif", serif' font-size="9.6" text-anchor="start" fill="#111"  stroke="#111" stroke-width="0.38">e</text>
<rect x="263.00" y="610.00" width="24.70" height="26.10" fill="#fff" stroke="#666" stroke-width="1.1"/>
<text x="270.5" y="628" font-family='"Liberation Serif", serif' font-size="14.5" text-anchor="start" fill="#111" textLength="5.7" lengthAdjust="spacingAndGlyphs"  stroke="#111" stroke-width="0.38">f</text>
<text x="275" y="630.2" font-family='"Liberation Serif", serif' font-size="9.6" text-anchor="start" fill="#111"  stroke="#111" stroke-width="0.38">μ</text>
<rect x="478.60" y="608.60" width="24.10" height="25.70" fill="#fff" stroke="#333" stroke-width="1.1"/>
<text x="486.1" y="626.6" font-family='"Liberation Serif", serif' font-size="14.5" text-anchor="start" fill="#111" textLength="5.7" lengthAdjust="spacingAndGlyphs"  stroke="#111" stroke-width="0.38">f</text>
<text x="490.6" y="628.8" font-family='"Liberation Serif", serif' font-size="9.6" text-anchor="start" fill="#111"  stroke="#111" stroke-width="0.38">τ</text>
<text x="159.7" y="148.2" font-family='"Liberation Serif", serif' font-size="14" text-anchor="start" fill="#111" textLength="84.4" lengthAdjust="spacingAndGlyphs"  stroke="#111" stroke-width="0.38">no interactions</text>
<text x="378.2" y="202" font-family='"Liberation Serif", serif' font-size="14" text-anchor="start" fill="#111" textLength="84.4" lengthAdjust="spacingAndGlyphs"  stroke="#111" stroke-width="0.38">no interactions</text>
<text x="593.1" y="135.1" font-family='"Liberation Serif", serif' font-size="14" text-anchor="start" fill="#111" textLength="84.4" lengthAdjust="spacingAndGlyphs"  stroke="#111" stroke-width="0.38">no interactions</text>
<text x="156.1" y="424.3" font-family='"Liberation Serif", serif' font-size="14" text-anchor="start" fill="#111" textLength="84.4" lengthAdjust="spacingAndGlyphs"  stroke="#111" stroke-width="0.38">no interactions</text>
<text x="379.9" y="396" font-family='"Liberation Serif", serif' font-size="14" text-anchor="start" fill="#111" textLength="84.4" lengthAdjust="spacingAndGlyphs"  stroke="#111" stroke-width="0.38">no interactions</text>
<text x="590.7" y="419.1" font-family='"Liberation Serif", serif' font-size="14" text-anchor="start" fill="#111" textLength="84.4" lengthAdjust="spacingAndGlyphs"  stroke="#111" stroke-width="0.38">no interactions</text>
<text x="164.6" y="656" font-family='"Liberation Serif", serif' font-size="14" text-anchor="start" fill="#111" textLength="84.4" lengthAdjust="spacingAndGlyphs"  stroke="#111" stroke-width="0.38">no interactions</text>
<text x="374.2" y="772.3" font-family='"Liberation Serif", serif' font-size="14" text-anchor="start" fill="#111" textLength="84.4" lengthAdjust="spacingAndGlyphs"  stroke="#111" stroke-width="0.38">no interactions</text>
<text x="590.7" y="740.5" font-family='"Liberation Serif", serif' font-size="14" text-anchor="start" fill="#111" textLength="84.4" lengthAdjust="spacingAndGlyphs"  stroke="#111" stroke-width="0.38">no interactions</text>
<line x1="54.7" y1="167.8" x2="77.4" y2="167.8" stroke="#000" stroke-width="1.4" />
<text x="83.6" y="172.8" font-family='"Liberation Serif", serif' font-size="14.5" text-anchor="start" fill="#111"  stroke="#111" stroke-width="0.38">g</text>
<text x="89.9" y="175.2" font-family='"Liberation Serif", serif' font-size="10.8" text-anchor="start" fill="#111" font-style="italic" stroke="#111" stroke-width="0.38">ν</text>
<text x="95" y="175.2" font-family='"Liberation Serif", serif' font-size="10.8" text-anchor="start" fill="#111" textLength="5.3" lengthAdjust="spacingAndGlyphs"  stroke="#111" stroke-width="0.38">a</text>
<text x="102.7" y="172.8" font-family='"Liberation Serif", serif' font-size="14.5" text-anchor="start" fill="#111" textLength="9.4" lengthAdjust="spacingAndGlyphs"  stroke="#111" stroke-width="0.38">=</text>
<text x="113.5" y="172.8" font-family='"Liberation Serif", serif' font-size="14.5" text-anchor="start" fill="#111" textLength="19.9" lengthAdjust="spacingAndGlyphs"  stroke="#111" stroke-width="0.38">0.5</text>
<text x="138.05" y="172.8" font-family='"Liberation Serif", serif' font-size="14.5" text-anchor="start" fill="#111" textLength="27.2" lengthAdjust="spacingAndGlyphs"  stroke="#111" stroke-width="0.38">GeV</text>
<text x="165.2" y="167.7" font-family='"Liberation Serif", serif' font-size="9.2" text-anchor="start" fill="#111"  stroke="#111" stroke-width="0.38">-1</text>
<text x="172.7" y="172.8" font-family='"Liberation Serif", serif' font-size="14.5" text-anchor="start" fill="#111" textLength="36.9" lengthAdjust="spacingAndGlyphs"  stroke="#111" stroke-width="0.38">, GAC</text>
<line x1="54.7" y1="186.2" x2="77.4" y2="186.2" stroke="#000" stroke-width="2.7" />
<text x="83.6" y="191.2" font-family='"Liberation Serif", serif' font-size="14.5" text-anchor="start" fill="#111"  stroke="#111" stroke-width="0.38">g</text>
<text x="89.9" y="193.6" font-family='"Liberation Serif", serif' font-size="10.8" text-anchor="start" fill="#111" font-style="italic" stroke="#111" stroke-width="0.38">ν</text>
<text x="95" y="193.6" font-family='"Liberation Serif", serif' font-size="10.8" text-anchor="start" fill="#111" textLength="5.3" lengthAdjust="spacingAndGlyphs"  stroke="#111" stroke-width="0.38">a</text>
<text x="102.7" y="191.2" font-family='"Liberation Serif", serif' font-size="14.5" text-anchor="start" fill="#111" textLength="9.4" lengthAdjust="spacingAndGlyphs"  stroke="#111" stroke-width="0.38">=</text>
<text x="113.5" y="191.2" font-family='"Liberation Serif", serif' font-size="14.5" text-anchor="start" fill="#111" textLength="19.9" lengthAdjust="spacingAndGlyphs"  stroke="#111" stroke-width="0.38">0.5</text>
<text x="138.05" y="191.2" font-family='"Liberation Serif", serif' font-size="14.5" text-anchor="start" fill="#111" textLength="27.2" lengthAdjust="spacingAndGlyphs"  stroke="#111" stroke-width="0.38">GeV</text>
<text x="165.2" y="186.1" font-family='"Liberation Serif", serif' font-size="9.2" text-anchor="start" fill="#111"  stroke="#111" stroke-width="0.38">-1</text>
<text x="172.7" y="191.2" font-family='"Liberation Serif", serif' font-size="14.5" text-anchor="start" fill="#111" textLength="27.4" lengthAdjust="spacingAndGlyphs"  stroke="#111" stroke-width="0.38">, GC</text>
<line x1="54.7" y1="204.7" x2="77.4" y2="204.7" stroke="#aaaaaa" stroke-width="1.4" />
<text x="83.6" y="209.7" font-family='"Liberation Serif", serif' font-size="14.5" text-anchor="start" fill="#111"  stroke="#111" stroke-width="0.38">g</text>
<text x="89.9" y="212.1" font-family='"Liberation Serif", serif' font-size="10.8" text-anchor="start" fill="#111" font-style="italic" stroke="#111" stroke-width="0.38">ν</text>
<text x="95" y="212.1" font-family='"Liberation Serif", serif' font-size="10.8" text-anchor="start" fill="#111" textLength="5.3" lengthAdjust="spacingAndGlyphs"  stroke="#111" stroke-width="0.38">a</text>
<text x="102.7" y="209.7" font-family='"Liberation Serif", serif' font-size="14.5" text-anchor="start" fill="#111" textLength="9.4" lengthAdjust="spacingAndGlyphs"  stroke="#111" stroke-width="0.38">=</text>
<text x="113.4" y="209.7" font-family='"Liberation Serif", serif' font-size="14.5" text-anchor="start" fill="#111" textLength="7.6" lengthAdjust="spacingAndGlyphs"  stroke="#111" stroke-width="0.38">1</text>
<text x="125.5" y="209.7" font-family='"Liberation Serif", serif' font-size="14.5" text-anchor="start" fill="#111" textLength="27" lengthAdjust="spacingAndGlyphs"  stroke="#111" stroke-width="0.38">GeV</text>
<text x="152.5" y="204.6" font-family='"Liberation Serif", serif' font-size="9.2" text-anchor="start" fill="#111"  stroke="#111" stroke-width="0.38">-1</text>
<text x="160.75" y="209.7" font-family='"Liberation Serif", serif' font-size="14.5" text-anchor="start" fill="#111" textLength="36.9" lengthAdjust="spacingAndGlyphs"  stroke="#111" stroke-width="0.38">, GAC</text>
<line x1="54.7" y1="223" x2="77.4" y2="223" stroke="#aaaaaa" stroke-width="2.7" />
<text x="83.6" y="228" font-family='"Liberation Serif", serif' font-size="14.5" text-anchor="start" fill="#111"  stroke="#111" stroke-width="0.38">g</text>
<text x="89.9" y="230.4" font-family='"Liberation Serif", serif' font-size="10.8" text-anchor="start" fill="#111" font-style="italic" stroke="#111" stroke-width="0.38">ν</text>
<text x="95" y="230.4" font-family='"Liberation Serif", serif' font-size="10.8" text-anchor="start" fill="#111" textLength="5.3" lengthAdjust="spacingAndGlyphs"  stroke="#111" stroke-width="0.38">a</text>
<text x="102.7" y="228" font-family='"Liberation Serif", serif' font-size="14.5" text-anchor="start" fill="#111" textLength="9.4" lengthAdjust="spacingAndGlyphs"  stroke="#111" stroke-width="0.38">=</text>
<text x="113.4" y="228" font-family='"Liberation Serif", serif' font-size="14.5" text-anchor="start" fill="#111" textLength="7.6" lengthAdjust="spacingAndGlyphs"  stroke="#111" stroke-width="0.38">1</text>
<text x="125.5" y="228" font-family='"Liberation Serif", serif' font-size="14.5" text-anchor="start" fill="#111" textLength="27" lengthAdjust="spacingAndGlyphs"  stroke="#111" stroke-width="0.38">GeV</text>
<text x="152.5" y="222.9" font-family='"Liberation Serif", serif' font-size="9.2" text-anchor="start" fill="#111"  stroke="#111" stroke-width="0.38">-1</text>
<text x="160.75" y="228" font-family='"Liberation Serif", serif' font-size="14.5" text-anchor="start" fill="#111" textLength="27.4" lengthAdjust="spacingAndGlyphs"  stroke="#111" stroke-width="0.38">, GC</text>
<line x1="517" y1="43.4" x2="540" y2="43.4" stroke="#000" stroke-width="2.7" />
<text x="546.2" y="48.4" font-family='"Liberation Serif", serif' font-size="14.5" text-anchor="start" fill="#111"  stroke="#111" stroke-width="0.38">g</text>
<text x="552.5" y="50.8" font-family='"Liberation Serif", serif' font-size="10.8" text-anchor="start" fill="#111" font-style="italic" stroke="#111" stroke-width="0.38">ν</text>
<text x="557.6" y="50.8" font-family='"Liberation Serif", serif' font-size="10.8" text-anchor="start" fill="#111" textLength="5.3" lengthAdjust="spacingAndGlyphs"  stroke="#111" stroke-width="0.38">a</text>
<text x="565.3" y="48.4" font-family='"Liberation Serif", serif' font-size="14.5" text-anchor="start" fill="#111" textLength="9.4" lengthAdjust="spacingAndGlyphs"  stroke="#111" stroke-width="0.38">=</text>
<text x="576.1" y="48.4" font-family='"Liberation Serif", serif' font-size="14.5" text-anchor="start" fill="#111" textLength="19.9" lengthAdjust="spacingAndGlyphs"  stroke="#111" stroke-width="0.38">0.5</text>
<text x="600.65" y="48.4" font-family='"Liberation Serif", serif' font-size="14.5" text-anchor="start" fill="#111" textLength="27.2" lengthAdjust="spacingAndGlyphs"  stroke="#111" stroke-width="0.38">GeV</text>
<text x="627.8" y="43.3" font-family='"Liberation Serif", serif' font-size="9.2" text-anchor="start" fill="#111"  stroke="#111" stroke-width="0.38">-1</text>
<text x="635.3" y="48.4" font-family='"Liberation Serif", serif' font-size="14.5" text-anchor="start" fill="#111" textLength="36.9" lengthAdjust="spacingAndGlyphs"  stroke="#111" stroke-width="0.38">, GAC</text>
<line x1="517" y1="61.5" x2="540" y2="61.5" stroke="#000" stroke-width="1.4" />
<text x="546.2" y="66.5" font-family='"Liberation Serif", serif' font-size="14.5" text-anchor="start" fill="#111"  stroke="#111" stroke-width="0.38">g</text>
<text x="552.5" y="68.9" font-family='"Liberation Serif", serif' font-size="10.8" text-anchor="start" fill="#111" font-style="italic" stroke="#111" stroke-width="0.38">ν</text>
<text x="557.6" y="68.9" font-family='"Liberation Serif", serif' font-size="10.8" text-anchor="start" fill="#111" textLength="5.3" lengthAdjust="spacingAndGlyphs"  stroke="#111" stroke-width="0.38">a</text>
<text x="565.3" y="66.5" font-family='"Liberation Serif", serif' font-size="14.5" text-anchor="start" fill="#111" textLength="9.4" lengthAdjust="spacingAndGlyphs"  stroke="#111" stroke-width="0.38">=</text>
<text x="576.1" y="66.5" font-family='"Liberation Serif", serif' font-size="14.5" text-anchor="start" fill="#111" textLength="19.9" lengthAdjust="spacingAndGlyphs"  stroke="#111" stroke-width="0.38">0.5</text>
<text x="600.65" y="66.5" font-family='"Liberation Serif", serif' font-size="14.5" text-anchor="start" fill="#111" textLength="27.2" lengthAdjust="spacingAndGlyphs"  stroke="#111" stroke-width="0.38">GeV</text>
<text x="627.8" y="61.4" font-family='"Liberation Serif", serif' font-size="9.2" text-anchor="start" fill="#111"  stroke="#111" stroke-width="0.38">-1</text>
<text x="635.3" y="66.5" font-family='"Liberation Serif", serif' font-size="14.5" text-anchor="start" fill="#111" textLength="27.4" lengthAdjust="spacingAndGlyphs"  stroke="#111" stroke-width="0.38">, GC</text>
<line x1="517" y1="79.9" x2="540" y2="79.9" stroke="#aaaaaa" stroke-width="1.4" />
<text x="546.2" y="84.9" font-family='"Liberation Serif", serif' font-size="14.5" text-anchor="start" fill="#111"  stroke="#111" stroke-width="0.38">g</text>
<text x="552.5" y="87.3" font-family='"Liberation Serif", serif' font-size="10.8" text-anchor="start" fill="#111" font-style="italic" stroke="#111" stroke-width="0.38">ν</text>
<text x="557.6" y="87.3" font-family='"Liberation Serif", serif' font-size="10.8" text-anchor="start" fill="#111" textLength="5.3" lengthAdjust="spacingAndGlyphs"  stroke="#111" stroke-width="0.38">a</text>
<text x="565.3" y="84.9" font-family='"Liberation Serif", serif' font-size="14.5" text-anchor="start" fill="#111" textLength="9.4" lengthAdjust="spacingAndGlyphs"  stroke="#111" stroke-width="0.38">=</text>
<text x="576" y="84.9" font-family='"Liberation Serif", serif' font-size="14.5" text-anchor="start" fill="#111" textLength="7.6" lengthAdjust="spacingAndGlyphs"  stroke="#111" stroke-width="0.38">1</text>
<text x="588.1" y="84.9" font-family='"Liberation Serif", serif' font-size="14.5" text-anchor="start" fill="#111" textLength="27" lengthAdjust="spacingAndGlyphs"  stroke="#111" stroke-width="0.38">GeV</text>
<text x="615.1" y="79.8" font-family='"Liberation Serif", serif' font-size="9.2" text-anchor="start" fill="#111"  stroke="#111" stroke-width="0.38">-1</text>
<text x="623.35" y="84.9" font-family='"Liberation Serif", serif' font-size="14.5" text-anchor="start" fill="#111" textLength="36.9" lengthAdjust="spacingAndGlyphs"  stroke="#111" stroke-width="0.38">, GAC</text>
<line x1="517" y1="98" x2="540" y2="98" stroke="#aaaaaa" stroke-width="2.7" />
<text x="546.2" y="103" font-family='"Liberation Serif", serif' font-size="14.5" text-anchor="start" fill="#111"  stroke="#111" stroke-width="0.38">g</text>
<text x="552.5" y="105.4" font-family='"Liberation Serif", serif' font-size="10.8" text-anchor="start" fill="#111" font-style="italic" stroke="#111" stroke-width="0.38">ν</text>
<text x="557.6" y="105.4" font-family='"Liberation Serif", serif' font-size="10.8" text-anchor="start" fill="#111" textLength="5.3" lengthAdjust="spacingAndGlyphs"  stroke="#111" stroke-width="0.38">a</text>
<text x="565.3" y="103" font-family='"Liberation Serif", serif' font-size="14.5" text-anchor="start" fill="#111" textLength="9.4" lengthAdjust="spacingAndGlyphs"  stroke="#111" stroke-width="0.38">=</text>
<text x="576" y="103" font-family='"Liberation Serif", serif' font-size="14.5" text-anchor="start" fill="#111" textLength="7.6" lengthAdjust="spacingAndGlyphs"  stroke="#111" stroke-width="0.38">1</text>
<text x="588.1" y="103" font-family='"Liberation Serif", serif' font-size="14.5" text-anchor="start" fill="#111" textLength="27" lengthAdjust="spacingAndGlyphs"  stroke="#111" stroke-width="0.38">GeV</text>
<text x="615.1" y="97.9" font-family='"Liberation Serif", serif' font-size="9.2" text-anchor="start" fill="#111"  stroke="#111" stroke-width="0.38">-1</text>
<text x="623.35" y="103" font-family='"Liberation Serif", serif' font-size="14.5" text-anchor="start" fill="#111" textLength="27.4" lengthAdjust="spacingAndGlyphs"  stroke="#111" stroke-width="0.38">, GC</text>
<line x1="52.2" y1="340.2" x2="74.8" y2="340.2" stroke="#000" stroke-width="1.4" />
<text x="81" y="345.2" font-family='"Liberation Serif", serif' font-size="14.5" text-anchor="start" fill="#111"  stroke="#111" stroke-width="0.38">g</text>
<text x="87.3" y="347.6" font-family='"Liberation Serif", serif' font-size="10.8" text-anchor="start" fill="#111" font-style="italic" stroke="#111" stroke-width="0.38">ν</text>
<text x="92.4" y="347.6" font-family='"Liberation Serif", serif' font-size="10.8" text-anchor="start" fill="#111" textLength="5.3" lengthAdjust="spacingAndGlyphs"  stroke="#111" stroke-width="0.38">a</text>
<text x="100.1" y="345.2" font-family='"Liberation Serif", serif' font-size="14.5" text-anchor="start" fill="#111" textLength="9.4" lengthAdjust="spacingAndGlyphs"  stroke="#111" stroke-width="0.38">=</text>
<text x="110.9" y="345.2" font-family='"Liberation Serif", serif' font-size="14.5" text-anchor="start" fill="#111" textLength="19.9" lengthAdjust="spacingAndGlyphs"  stroke="#111" stroke-width="0.38">0.5</text>
<text x="135.45" y="345.2" font-family='"Liberation Serif", serif' font-size="14.5" text-anchor="start" fill="#111" textLength="27.2" lengthAdjust="spacingAndGlyphs"  stroke="#111" stroke-width="0.38">GeV</text>
<text x="162.6" y="340.1" font-family='"Liberation Serif", serif' font-size="9.2" text-anchor="start" fill="#111"  stroke="#111" stroke-width="0.38">-1</text>
<text x="170.1" y="345.2" font-family='"Liberation Serif", serif' font-size="14.5" text-anchor="start" fill="#111" textLength="36.9" lengthAdjust="spacingAndGlyphs"  stroke="#111" stroke-width="0.38">, GAC</text>
<line x1="52.2" y1="358.1" x2="74.8" y2="358.1" stroke="#000" stroke-width="2.7" />
<text x="81" y="363.1" font-family='"Liberation Serif", serif' font-size="14.5" text-anchor="start" fill="#111"  stroke="#111" stroke-width="0.38">g</text>
<text x="87.3" y="365.5" font-family='"Liberation Serif", serif' font-size="10.8" text-anchor="start" fill="#111" font-style="italic" stroke="#111" stroke-width="0.38">ν</text>
<text x="92.4" y="365.5" font-family='"Liberation Serif", serif' font-size="10.8" text-anchor="start" fill="#111" textLength="5.3" lengthAdjust="spacingAndGlyphs"  stroke="#111" stroke-width="0.38">a</text>
<text x="100.1" y="363.1" font-family='"Liberation Serif", serif' font-size="14.5" text-anchor="start" fill="#111" textLength="9.4" lengthAdjust="spacingAndGlyphs"  stroke="#111" stroke-width="0.38">=</text>
<text x="110.9" y="363.1" font-family='"Liberation Serif", serif' font-size="14.5" text-anchor="start" fill="#111" textLength="19.9" lengthAdjust="spacingAndGlyphs"  stroke="#111" stroke-width="0.38">0.5</text>
<text x="135.45" y="363.1" font-family='"Liberation Serif", serif' font-size="14.5" text-anchor="start" fill="#111" textLength="27.2" lengthAdjust="spacingAndGlyphs"  stroke="#111" stroke-width="0.38">GeV</text>
<text x="162.6" y="358" font-family='"Liberation Serif", serif' font-size="9.2" text-anchor="start" fill="#111"  stroke="#111" stroke-width="0.38">-1</text>
<text x="170.1" y="363.1" font-family='"Liberation Serif", serif' font-size="14.5" text-anchor="start" fill="#111" textLength="27.4" lengthAdjust="spacingAndGlyphs"  stroke="#111" stroke-width="0.38">, GC</text>
<line x1="52.2" y1="376.4" x2="74.8" y2="376.4" stroke="#aaaaaa" stroke-width="1.4" />
<text x="81" y="381.4" font-family='"Liberation Serif", serif' font-size="14.5" text-anchor="start" fill="#111"  stroke="#111" stroke-width="0.38">g</text>
<text x="87.3" y="383.8" font-family='"Liberation Serif", serif' font-size="10.8" text-anchor="start" fill="#111" font-style="italic" stroke="#111" stroke-width="0.38">ν</text>
<text x="92.4" y="383.8" font-family='"Liberation Serif", serif' font-size="10.8" text-anchor="start" fill="#111" textLength="5.3" lengthAdjust="spacingAndGlyphs"  stroke="#111" stroke-width="0.38">a</text>
<text x="100.1" y="381.4" font-family='"Liberation Serif", serif' font-size="14.5" text-anchor="start" fill="#111" textLength="9.4" lengthAdjust="spacingAndGlyphs"  stroke="#111" stroke-width="0.38">=</text>
<text x="110.8" y="381.4" font-family='"Liberation Serif", serif' font-size="14.5" text-anchor="start" fill="#111" textLength="7.6" lengthAdjust="spacingAndGlyphs"  stroke="#111" stroke-width="0.38">1</text>
<text x="122.9" y="381.4" font-family='"Liberation Serif", serif' font-size="14.5" text-anchor="start" fill="#111" textLength="27" lengthAdjust="spacingAndGlyphs"  stroke="#111" stroke-width="0.38">GeV</text>
<text x="149.9" y="376.3" font-family='"Liberation Serif", serif' font-size="9.2" text-anchor="start" fill="#111"  stroke="#111" stroke-width="0.38">-1</text>
<text x="158.15" y="381.4" font-family='"Liberation Serif", serif' font-size="14.5" text-anchor="start" fill="#111" textLength="36.9" lengthAdjust="spacingAndGlyphs"  stroke="#111" stroke-width="0.38">, GAC</text>
<line x1="52.2" y1="394.5" x2="74.8" y2="394.5" stroke="#aaaaaa" stroke-width="2.7" />
<text x="81" y="399.5" font-family='"Liberation Serif", serif' font-size="14.5" text-anchor="start" fill="#111"  stroke="#111" stroke-width="0.38">g</text>
<text x="87.3" y="401.9" font-family='"Liberation Serif", serif' font-size="10.8" text-anchor="start" fill="#111" font-style="italic" stroke="#111" stroke-width="0.38">ν</text>
<text x="92.4" y="401.9" font-family='"Liberation Serif", serif' font-size="10.8" text-anchor="start" fill="#111" textLength="5.3" lengthAdjust="spacingAndGlyphs"  stroke="#111" stroke-width="0.38">a</text>
<text x="100.1" y="399.5" font-family='"Liberation Serif", serif' font-size="14.5" text-anchor="start" fill="#111" textLength="9.4" lengthAdjust="spacingAndGlyphs"  stroke="#111" stroke-width="0.38">=</text>
<text x="110.8" y="399.5" font-family='"Liberation Serif", serif' font-size="14.5" text-anchor="start" fill="#111" textLength="7.6" lengthAdjust="spacingAndGlyphs"  stroke="#111" stroke-width="0.38">1</text>
<text x="122.9" y="399.5" font-family='"Liberation Serif", serif' font-size="14.5" text-anchor="start" fill="#111" textLength="27" lengthAdjust="spacingAndGlyphs"  stroke="#111" stroke-width="0.38">GeV</text>
<text x="149.9" y="394.4" font-family='"Liberation Serif", serif' font-size="9.2" text-anchor="start" fill="#111"  stroke="#111" stroke-width="0.38">-1</text>
<text x="158.15" y="399.5" font-family='"Liberation Serif", serif' font-size="14.5" text-anchor="start" fill="#111" textLength="27.4" lengthAdjust="spacingAndGlyphs"  stroke="#111" stroke-width="0.38">, GC</text>
<line x1="265.3" y1="324" x2="287.6" y2="324" stroke="#000" stroke-width="1.4" />
<text x="294" y="329" font-family='"Liberation Serif", serif' font-size="14.5" text-anchor="start" fill="#111"  stroke="#111" stroke-width="0.38">g</text>
<text x="300.3" y="331.4" font-family='"Liberation Serif", serif' font-size="10.8" text-anchor="start" fill="#111" font-style="italic" stroke="#111" stroke-width="0.38">ν</text>
<text x="305.4" y="331.4" font-family='"Liberation Serif", serif' font-size="10.8" text-anchor="start" fill="#111" textLength="5.3" lengthAdjust="spacingAndGlyphs"  stroke="#111" stroke-width="0.38">a</text>
<text x="313.1" y="329" font-family='"Liberation Serif", serif' font-size="14.5" text-anchor="start" fill="#111" textLength="9.4" lengthAdjust="spacingAndGlyphs"  stroke="#111" stroke-width="0.38">=</text>
<text x="323.9" y="329" font-family='"Liberation Serif", serif' font-size="14.5" text-anchor="start" fill="#111" textLength="19.9" lengthAdjust="spacingAndGlyphs"  stroke="#111" stroke-width="0.38">0.5</text>
<text x="348.45" y="329" font-family='"Liberation Serif", serif' font-size="14.5" text-anchor="start" fill="#111" textLength="27.2" lengthAdjust="spacingAndGlyphs"  stroke="#111" stroke-width="0.38">GeV</text>
<text x="375.6" y="323.9" font-family='"Liberation Serif", serif' font-size="9.2" text-anchor="start" fill="#111"  stroke="#111" stroke-width="0.38">-1</text>
<text x="383.1" y="329" font-family='"Liberation Serif", serif' font-size="14.5" text-anchor="start" fill="#111" textLength="36.9" lengthAdjust="spacingAndGlyphs"  stroke="#111" stroke-width="0.38">, GAC</text>
<line x1="265.3" y1="342.1" x2="287.6" y2="342.1" stroke="#000" stroke-width="2.7" />
<text x="294" y="347.1" font-family='"Liberation Serif", serif' font-size="14.5" text-anchor="start" fill="#111"  stroke="#111" stroke-width="0.38">g</text>
<text x="300.3" y="349.5" font-family='"Liberation Serif", serif' font-size="10.8" text-anchor="start" fill="#111" font-style="italic" stroke="#111" stroke-width="0.38">ν</text>
<text x="305.4" y="349.5" font-family='"Liberation Serif", serif' font-size="10.8" text-anchor="start" fill="#111" textLength="5.3" lengthAdjust="spacingAndGlyphs"  stroke="#111" stroke-width="0.38">a</text>
<text x="313.1" y="347.1" font-family='"Liberation Serif", serif' font-size="14.5" text-anchor="start" fill="#111" textLength="9.4" lengthAdjust="spacingAndGlyphs"  stroke="#111" stroke-width="0.38">=</text>
<text x="323.9" y="347.1" font-family='"Liberation Serif", serif' font-size="14.5" text-anchor="start" fill="#111" textLength="19.9" lengthAdjust="spacingAndGlyphs"  stroke="#111" stroke-width="0.38">0.5</text>
<text x="348.45" y="347.1" font-family='"Liberation Serif", serif' font-size="14.5" text-anchor="start" fill="#111" textLength="27.2" lengthAdjust="spacingAndGlyphs"  stroke="#111" stroke-width="0.38">GeV</text>
<text x="375.6" y="342" font-family='"Liberation Serif", serif' font-size="9.2" text-anchor="start" fill="#111"  stroke="#111" stroke-width="0.38">-1</text>
<text x="383.1" y="347.1" font-family='"Liberation Serif", serif' font-size="14.5" text-anchor="start" fill="#111" textLength="27.4" lengthAdjust="spacingAndGlyphs"  stroke="#111" stroke-width="0.38">, GC</text>
<line x1="265.3" y1="360.3" x2="287.6" y2="360.3" stroke="#aaaaaa" stroke-width="1.4" />
<text x="294" y="365.3" font-family='"Liberation Serif", serif' font-size="14.5" text-anchor="start" fill="#111"  stroke="#111" stroke-width="0.38">g</text>
<text x="300.3" y="367.7" font-family='"Liberation Serif", serif' font-size="10.8" text-anchor="start" fill="#111" font-style="italic" stroke="#111" stroke-width="0.38">ν</text>
<text x="305.4" y="367.7" font-family='"Liberation Serif", serif' font-size="10.8" text-anchor="start" fill="#111" textLength="5.3" lengthAdjust="spacingAndGlyphs"  stroke="#111" stroke-width="0.38">a</text>
<text x="313.1" y="365.3" font-family='"Liberation Serif", serif' font-size="14.5" text-anchor="start" fill="#111" textLength="9.4" lengthAdjust="spacingAndGlyphs"  stroke="#111" stroke-width="0.38">=</text>
<text x="323.8" y="365.3" font-family='"Liberation Serif", serif' font-size="14.5" text-anchor="start" fill="#111" textLength="7.6" lengthAdjust="spacingAndGlyphs"  stroke="#111" stroke-width="0.38">1</text>
<text x="335.9" y="365.3" font-family='"Liberation Serif", serif' font-size="14.5" text-anchor="start" fill="#111" textLength="27" lengthAdjust="spacingAndGlyphs"  stroke="#111" stroke-width="0.38">GeV</text>
<text x="362.9" y="360.2" font-family='"Liberation Serif", serif' font-size="9.2" text-anchor="start" fill="#111"  stroke="#111" stroke-width="0.38">-1</text>
<text x="371.15" y="365.3" font-family='"Liberation Serif", serif' font-size="14.5" text-anchor="start" fill="#111" textLength="36.9" lengthAdjust="spacingAndGlyphs"  stroke="#111" stroke-width="0.38">, GAC</text>
<line x1="265.3" y1="378.5" x2="287.6" y2="378.5" stroke="#aaaaaa" stroke-width="2.7" />
<text x="294" y="383.5" font-family='"Liberation Serif", serif' font-size="14.5" text-anchor="start" fill="#111"  stroke="#111" stroke-width="0.38">g</text>
<text x="300.3" y="385.9" font-family='"Liberation Serif", serif' font-size="10.8" text-anchor="start" fill="#111" font-style="italic" stroke="#111" stroke-width="0.38">ν</text>
<text x="305.4" y="385.9" font-family='"Liberation Serif", serif' font-size="10.8" text-anchor="start" fill="#111" textLength="5.3" lengthAdjust="spacingAndGlyphs"  stroke="#111" stroke-width="0.38">a</text>
<text x="313.1" y="383.5" font-family='"Liberation Serif", serif' font-size="14.5" text-anchor="start" fill="#111" textLength="9.4" lengthAdjust="spacingAndGlyphs"  stroke="#111" stroke-width="0.38">=</text>
<text x="323.8" y="383.5" font-family='"Liberation Serif", serif' font-size="14.5" text-anchor="start" fill="#111" textLength="7.6" lengthAdjust="spacingAndGlyphs"  stroke="#111" stroke-width="0.38">1</text>
<text x="335.9" y="383.5" font-family='"Liberation Serif", serif' font-size="14.5" text-anchor="start" fill="#111" textLength="27" lengthAdjust="spacingAndGlyphs"  stroke="#111" stroke-width="0.38">GeV</text>
<text x="362.9" y="378.4" font-family='"Liberation Serif", serif' font-size="9.2" text-anchor="start" fill="#111"  stroke="#111" stroke-width="0.38">-1</text>
<text x="371.15" y="383.5" font-family='"Liberation Serif", serif' font-size="14.5" text-anchor="start" fill="#111" textLength="27.4" lengthAdjust="spacingAndGlyphs"  stroke="#111" stroke-width="0.38">, GC</text>
<line x1="486.7" y1="332.9" x2="509.7" y2="332.9" stroke="#000" stroke-width="1.4" />
<text x="515.55" y="337.9" font-family='"Liberation Serif", serif' font-size="14.5" text-anchor="start" fill="#111"  stroke="#111" stroke-width="0.38">g</text>
<text x="521.85" y="340.3" font-family='"Liberation Serif", serif' font-size="10.8" text-anchor="start" fill="#111" font-style="italic" stroke="#111" stroke-width="0.38">ν</text>
<text x="526.95" y="340.3" font-family='"Liberation Serif", serif' font-size="10.8" text-anchor="start" fill="#111" textLength="5.3" lengthAdjust="spacingAndGlyphs"  stroke="#111" stroke-width="0.38">a</text>
<text x="534.65" y="337.9" font-family='"Liberation Serif", serif' font-size="14.5" text-anchor="start" fill="#111" textLength="9.4" lengthAdjust="spacingAndGlyphs"  stroke="#111" stroke-width="0.38">=</text>
<text x="545.45" y="337.9" font-family='"Liberation Serif", serif' font-size="14.5" text-anchor="start" fill="#111" textLength="19.9" lengthAdjust="spacingAndGlyphs"  stroke="#111" stroke-width="0.38">0.5</text>
<text x="570" y="337.9" font-family='"Liberation Serif", serif' font-size="14.5" text-anchor="start" fill="#111" textLength="27.2" lengthAdjust="spacingAndGlyphs"  stroke="#111" stroke-width="0.38">GeV</text>
<text x="597.15" y="332.8" font-family='"Liberation Serif", serif' font-size="9.2" text-anchor="start" fill="#111"  stroke="#111" stroke-width="0.38">-1</text>
<text x="604.65" y="337.9" font-family='"Liberation Serif", serif' font-size="14.5" text-anchor="start" fill="#111" textLength="36.9" lengthAdjust="spacingAndGlyphs"  stroke="#111" stroke-width="0.38">, GAC</text>
<line x1="486.7" y1="350.9" x2="509.7" y2="350.9" stroke="#000" stroke-width="2.7" />
<text x="515.55" y="355.9" font-family='"Liberation Serif", serif' font-size="14.5" text-anchor="start" fill="#111"  stroke="#111" stroke-width="0.38">g</text>
<text x="521.85" y="358.3" font-family='"Liberation Serif", serif' font-size="10.8" text-anchor="start" fill="#111" font-style="italic" stroke="#111" stroke-width="0.38">ν</text>
<text x="526.95" y="358.3" font-family='"Liberation Serif", serif' font-size="10.8" text-anchor="start" fill="#111" textLength="5.3" lengthAdjust="spacingAndGlyphs"  stroke="#111" stroke-width="0.38">a</text>
<text x="534.65" y="355.9" font-family='"Liberation Serif", serif' font-size="14.5" text-anchor="start" fill="#111" textLength="9.4" lengthAdjust="spacingAndGlyphs"  stroke="#111" stroke-width="0.38">=</text>
<text x="545.45" y="355.9" font-family='"Liberation Serif", serif' font-size="14.5" text-anchor="start" fill="#111" textLength="19.9" lengthAdjust="spacingAndGlyphs"  stroke="#111" stroke-width="0.38">0.5</text>
<text x="570" y="355.9" font-family='"Liberation Serif", serif' font-size="14.5" text-anchor="start" fill="#111" textLength="27.2" lengthAdjust="spacingAndGlyphs"  stroke="#111" stroke-width="0.38">GeV</text>
<text x="597.15" y="350.8" font-family='"Liberation Serif", serif' font-size="9.2" text-anchor="start" fill="#111"  stroke="#111" stroke-width="0.38">-1</text>
<text x="604.65" y="355.9" font-family='"Liberation Serif", serif' font-size="14.5" text-anchor="start" fill="#111" textLength="27.4" lengthAdjust="spacingAndGlyphs"  stroke="#111" stroke-width="0.38">, GC</text>
<line x1="486.7" y1="369.1" x2="509.7" y2="369.1" stroke="#aaaaaa" stroke-width="1.4" />
<text x="515.55" y="374.1" font-family='"Liberation Serif", serif' font-size="14.5" text-anchor="start" fill="#111"  stroke="#111" stroke-width="0.38">g</text>
<text x="521.85" y="376.5" font-family='"Liberation Serif", serif' font-size="10.8" text-anchor="start" fill="#111" font-style="italic" stroke="#111" stroke-width="0.38">ν</text>
<text x="526.95" y="376.5" font-family='"Liberation Serif", serif' font-size="10.8" text-anchor="start" fill="#111" textLength="5.3" lengthAdjust="spacingAndGlyphs"  stroke="#111" stroke-width="0.38">a</text>
<text x="534.65" y="374.1" font-family='"Liberation Serif", serif' font-size="14.5" text-anchor="start" fill="#111" textLength="9.4" lengthAdjust="spacingAndGlyphs"  stroke="#111" stroke-width="0.38">=</text>
<text x="545.35" y="374.1" font-family='"Liberation Serif", serif' font-size="14.5" text-anchor="start" fill="#111" textLength="7.6" lengthAdjust="spacingAndGlyphs"  stroke="#111" stroke-width="0.38">1</text>
<text x="557.45" y="374.1" font-family='"Liberation Serif", serif' font-size="14.5" text-anchor="start" fill="#111" textLength="27" lengthAdjust="spacingAndGlyphs"  stroke="#111" stroke-width="0.38">GeV</text>
<text x="584.45" y="369" font-family='"Liberation Serif", serif' font-size="9.2" text-anchor="start" fill="#111"  stroke="#111" stroke-width="0.38">-1</text>
<text x="592.7" y="374.1" font-family='"Liberation Serif", serif' font-size="14.5" text-anchor="start" fill="#111" textLength="36.9" lengthAdjust="spacingAndGlyphs"  stroke="#111" stroke-width="0.38">, GAC</text>
<line x1="486.7" y1="387.4" x2="509.7" y2="387.4" stroke="#aaaaaa" stroke-width="2.7" />
<text x="515.55" y="392.4" font-family='"Liberation Serif", serif' font-size="14.5" text-anchor="start" fill="#111"  stroke="#111" stroke-width="0.38">g</text>
<text x="521.85" y="394.8" font-family='"Liberation Serif", serif' font-size="10.8" text-anchor="start" fill="#111" font-style="italic" stroke="#111" stroke-width="0.38">ν</text>
<text x="526.95" y="394.8" font-family='"Liberation Serif", serif' font-size="10.8" text-anchor="start" fill="#111" textLength="5.3" lengthAdjust="spacingAndGlyphs"  stroke="#111" stroke-width="0.38">a</text>
<text x="534.65" y="392.4" font-family='"Liberation Serif", serif' font-size="14.5" text-anchor="start" fill="#111" textLength="9.4" lengthAdjust="spacingAndGlyphs"  stroke="#111" stroke-width="0.38">=</text>
<text x="545.35" y="392.4" font-family='"Liberation Serif", serif' font-size="14.5" text-anchor="start" fill="#111" textLength="7.6" lengthAdjust="spacingAndGlyphs"  stroke="#111" stroke-width="0.38">1</text>
<text x="557.45" y="392.4" font-family='"Liberation Serif", serif' font-size="14.5" text-anchor="start" fill="#111" textLength="27" lengthAdjust="spacingAndGlyphs"  stroke="#111" stroke-width="0.38">GeV</text>
<text x="584.45" y="387.3" font-family='"Liberation Serif", serif' font-size="9.2" text-anchor="start" fill="#111"  stroke="#111" stroke-width="0.38">-1</text>
<text x="592.7" y="392.4" font-family='"Liberation Serif", serif' font-size="14.5" text-anchor="start" fill="#111" textLength="27.4" lengthAdjust="spacingAndGlyphs"  stroke="#111" stroke-width="0.38">, GC</text>
<line x1="59.2" y1="705" x2="82" y2="705" stroke="#000" stroke-width="1.4" />
<text x="88.35" y="710" font-family='"Liberation Serif", serif' font-size="14.5" text-anchor="start" fill="#111"  stroke="#111" stroke-width="0.38">g</text>
<text x="94.65" y="712.4" font-family='"Liberation Serif", serif' font-size="10.8" text-anchor="start" fill="#111" font-style="italic" stroke="#111" stroke-width="0.38">ν</text>
<text x="99.75" y="712.4" font-family='"Liberation Serif", serif' font-size="10.8" text-anchor="start" fill="#111" textLength="5.3" lengthAdjust="spacingAndGlyphs"  stroke="#111" stroke-width="0.38">a</text>
<text x="107.45" y="710" font-family='"Liberation Serif", serif' font-size="14.5" text-anchor="start" fill="#111" textLength="9.4" lengthAdjust="spacingAndGlyphs"  stroke="#111" stroke-width="0.38">=</text>
<text x="118.45" y="710" font-family='"Liberation Serif", serif' font-size="14.5" text-anchor="start" fill="#111" textLength="19.6" lengthAdjust="spacingAndGlyphs"  stroke="#111" stroke-width="0.38">0.5</text>
<text x="138.1" y="710" font-family='"Liberation Serif", serif' font-size="14.5" text-anchor="start" fill="#111" textLength="27.2" lengthAdjust="spacingAndGlyphs"  stroke="#111" stroke-width="0.38">GeV</text>
<text x="165.55" y="704.9" font-family='"Liberation Serif", serif' font-size="9.2" text-anchor="start" fill="#111"  stroke="#111" stroke-width="0.38">-1</text>
<text x="173.55" y="710" font-family='"Liberation Serif", serif' font-size="14.5" text-anchor="start" fill="#111" textLength="37.2" lengthAdjust="spacingAndGlyphs"  stroke="#111" stroke-width="0.38">, GAC</text>
<line x1="59.2" y1="723.2" x2="82" y2="723.2" stroke="#000" stroke-width="2.7" />
<text x="88.35" y="728.2" font-family='"Liberation Serif", serif' font-size="14.5" text-anchor="start" fill="#111"  stroke="#111" stroke-width="0.38">g</text>
<text x="94.65" y="730.6" font-family='"Liberation Serif", serif' font-size="10.8" text-anchor="start" fill="#111" font-style="italic" stroke="#111" stroke-width="0.38">ν</text>
<text x="99.75" y="730.6" font-family='"Liberation Serif", serif' font-size="10.8" text-anchor="start" fill="#111" textLength="5.3" lengthAdjust="spacingAndGlyphs"  stroke="#111" stroke-width="0.38">a</text>
<text x="107.45" y="728.2" font-family='"Liberation Serif", serif' font-size="14.5" text-anchor="start" fill="#111" textLength="9.4" lengthAdjust="spacingAndGlyphs"  stroke="#111" stroke-width="0.38">=</text>
<text x="118.45" y="728.2" font-family='"Liberation Serif", serif' font-size="14.5" text-anchor="start" fill="#111" textLength="19.6" lengthAdjust="spacingAndGlyphs"  stroke="#111" stroke-width="0.38">0.5</text>
<text x="138.1" y="728.2" font-family='"Liberation Serif", serif' font-size="14.5" text-anchor="start" fill="#111" textLength="27.2" lengthAdjust="spacingAndGlyphs"  stroke="#111" stroke-width="0.38">GeV</text>
<text x="165.55" y="723.1" font-family='"Liberation Serif", serif' font-size="9.2" text-anchor="start" fill="#111"  stroke="#111" stroke-width="0.38">-1</text>
<text x="173.55" y="728.2" font-family='"Liberation Serif", serif' font-size="14.5" text-anchor="start" fill="#111" textLength="27.5" lengthAdjust="spacingAndGlyphs"  stroke="#111" stroke-width="0.38">, GC</text>
<line x1="59.2" y1="741.3" x2="82" y2="741.3" stroke="#aaaaaa" stroke-width="1.4" />
<text x="88.35" y="746.3" font-family='"Liberation Serif", serif' font-size="14.5" text-anchor="start" fill="#111"  stroke="#111" stroke-width="0.38">g</text>
<text x="94.65" y="748.7" font-family='"Liberation Serif", serif' font-size="10.8" text-anchor="start" fill="#111" font-style="italic" stroke="#111" stroke-width="0.38">ν</text>
<text x="99.75" y="748.7" font-family='"Liberation Serif", serif' font-size="10.8" text-anchor="start" fill="#111" textLength="5.3" lengthAdjust="spacingAndGlyphs"  stroke="#111" stroke-width="0.38">a</text>
<text x="107.45" y="746.3" font-family='"Liberation Serif", serif' font-size="14.5" text-anchor="start" fill="#111" textLength="9.4" lengthAdjust="spacingAndGlyphs"  stroke="#111" stroke-width="0.38">=</text>
<text x="118.35" y="746.3" font-family='"Liberation Serif", serif' font-size="14.5" text-anchor="start" fill="#111" textLength="7.6" lengthAdjust="spacingAndGlyphs"  stroke="#111" stroke-width="0.38">1</text>
<text x="126.1" y="746.3" font-family='"Liberation Serif", serif' font-size="14.5" text-anchor="start" fill="#111" textLength="27.2" lengthAdjust="spacingAndGlyphs"  stroke="#111" stroke-width="0.38">GeV</text>
<text x="153.55" y="741.2" font-family='"Liberation Serif", serif' font-size="9.2" text-anchor="start" fill="#111"  stroke="#111" stroke-width="0.38">-1</text>
<text x="161.25" y="746.3" font-family='"Liberation Serif", serif' font-size="14.5" text-anchor="start" fill="#111" textLength="37.2" lengthAdjust="spacingAndGlyphs"  stroke="#111" stroke-width="0.38">, GAC</text>
<line x1="59.2" y1="759.4" x2="82" y2="759.4" stroke="#aaaaaa" stroke-width="2.7" />
<text x="88.35" y="764.4" font-family='"Liberation Serif", serif' font-size="14.5" text-anchor="start" fill="#111"  stroke="#111" stroke-width="0.38">g</text>
<text x="94.65" y="766.8" font-family='"Liberation Serif", serif' font-size="10.8" text-anchor="start" fill="#111" font-style="italic" stroke="#111" stroke-width="0.38">ν</text>
<text x="99.75" y="766.8" font-family='"Liberation Serif", serif' font-size="10.8" text-anchor="start" fill="#111" textLength="5.3" lengthAdjust="spacingAndGlyphs"  stroke="#111" stroke-width="0.38">a</text>
<text x="107.45" y="764.4" font-family='"Liberation Serif", serif' font-size="14.5" text-anchor="start" fill="#111" textLength="9.4" lengthAdjust="spacingAndGlyphs"  stroke="#111" stroke-width="0.38">=</text>
<text x="118.35" y="764.4" font-family='"Liberation Serif", serif' font-size="14.5" text-anchor="start" fill="#111" textLength="7.6" lengthAdjust="spacingAndGlyphs"  stroke="#111" stroke-width="0.38">1</text>
<text x="126.1" y="764.4" font-family='"Liberation Serif", serif' font-size="14.5" text-anchor="start" fill="#111" textLength="27.2" lengthAdjust="spacingAndGlyphs"  stroke="#111" stroke-width="0.38">GeV</text>
<text x="153.55" y="759.3" font-family='"Liberation Serif", serif' font-size="9.2" text-anchor="start" fill="#111"  stroke="#111" stroke-width="0.38">-1</text>
<text x="161.25" y="764.4" font-family='"Liberation Serif", serif' font-size="14.5" text-anchor="start" fill="#111" textLength="27.5" lengthAdjust="spacingAndGlyphs"  stroke="#111" stroke-width="0.38">, GC</text>
<line x1="296.4" y1="657.1" x2="319.2" y2="657.1" stroke="#000" stroke-width="1.4" />
<text x="325.55" y="662.1" font-family='"Liberation Serif", serif' font-size="14.5" text-anchor="start" fill="#111"  stroke="#111" stroke-width="0.38">g</text>
<text x="331.85" y="664.5" font-family='"Liberation Serif", serif' font-size="10.8" text-anchor="start" fill="#111" font-style="italic" stroke="#111" stroke-width="0.38">ν</text>
<text x="336.95" y="664.5" font-family='"Liberation Serif", serif' font-size="10.8" text-anchor="start" fill="#111" textLength="5.3" lengthAdjust="spacingAndGlyphs"  stroke="#111" stroke-width="0.38">a</text>
<text x="344.65" y="662.1" font-family='"Liberation Serif", serif' font-size="14.5" text-anchor="start" fill="#111" textLength="9.4" lengthAdjust="spacingAndGlyphs"  stroke="#111" stroke-width="0.38">=</text>
<text x="355.65" y="662.1" font-family='"Liberation Serif", serif' font-size="14.5" text-anchor="start" fill="#111" textLength="19.6" lengthAdjust="spacingAndGlyphs"  stroke="#111" stroke-width="0.38">0.5</text>
<text x="375.3" y="662.1" font-family='"Liberation Serif", serif' font-size="14.5" text-anchor="start" fill="#111" textLength="27.2" lengthAdjust="spacingAndGlyphs"  stroke="#111" stroke-width="0.38">GeV</text>
<text x="402.75" y="657" font-family='"Liberation Serif", serif' font-size="9.2" text-anchor="start" fill="#111"  stroke="#111" stroke-width="0.38">-1</text>
<text x="410.75" y="662.1" font-family='"Liberation Serif", serif' font-size="14.5" text-anchor="start" fill="#111" textLength="37.2" lengthAdjust="spacingAndGlyphs"  stroke="#111" stroke-width="0.38">, GAC</text>
<line x1="296.4" y1="675.3" x2="319.2" y2="675.3" stroke="#000" stroke-width="2.7" />
<text x="325.55" y="680.3" font-family='"Liberation Serif", serif' font-size="14.5" text-anchor="start" fill="#111"  stroke="#111" stroke-width="0.38">g</text>
<text x="331.85" y="682.7" font-family='"Liberation Serif", serif' font-size="10.8" text-anchor="start" fill="#111" font-style="italic" stroke="#111" stroke-width="0.38">ν</text>
<text x="336.95" y="682.7" font-family='"Liberation Serif", serif' font-size="10.8" text-anchor="start" fill="#111" textLength="5.3" lengthAdjust="spacingAndGlyphs"  stroke="#111" stroke-width="0.38">a</text>
<text x="344.65" y="680.3" font-family='"Liberation Serif", serif' font-size="14.5" text-anchor="start" fill="#111" textLength="9.4" lengthAdjust="spacingAndGlyphs"  stroke="#111" stroke-width="0.38">=</text>
<text x="355.65" y="680.3" font-family='"Liberation Serif", serif' font-size="14.5" text-anchor="start" fill="#111" textLength="19.6" lengthAdjust="spacingAndGlyphs"  stroke="#111" stroke-width="0.38">0.5</text>
<text x="375.3" y="680.3" font-family='"Liberation Serif", serif' font-size="14.5" text-anchor="start" fill="#111" textLength="27.2" lengthAdjust="spacingAndGlyphs"  stroke="#111" stroke-width="0.38">GeV</text>
<text x="402.75" y="675.2" font-family='"Liberation Serif", serif' font-size="9.2" text-anchor="start" fill="#111"  stroke="#111" stroke-width="0.38">-1</text>
<text x="410.75" y="680.3" font-family='"Liberation Serif", serif' font-size="14.5" text-anchor="start" fill="#111" textLength="27.5" lengthAdjust="spacingAndGlyphs"  stroke="#111" stroke-width="0.38">, GC</text>
<line x1="296.4" y1="693.4" x2="319.2" y2="693.4" stroke="#aaaaaa" stroke-width="1.4" />
<text x="325.55" y="698.4" font-family='"Liberation Serif", serif' font-size="14.5" text-anchor="start" fill="#111"  stroke="#111" stroke-width="0.38">g</text>
<text x="331.85" y="700.8" font-family='"Liberation Serif", serif' font-size="10.8" text-anchor="start" fill="#111" font-style="italic" stroke="#111" stroke-width="0.38">ν</text>
<text x="336.95" y="700.8" font-family='"Liberation Serif", serif' font-size="10.8" text-anchor="start" fill="#111" textLength="5.3" lengthAdjust="spacingAndGlyphs"  stroke="#111" stroke-width="0.38">a</text>
<text x="344.65" y="698.4" font-family='"Liberation Serif", serif' font-size="14.5" text-anchor="start" fill="#111" textLength="9.4" lengthAdjust="spacingAndGlyphs"  stroke="#111" stroke-width="0.38">=</text>
<text x="355.55" y="698.4" font-family='"Liberation Serif", serif' font-size="14.5" text-anchor="start" fill="#111" textLength="7.6" lengthAdjust="spacingAndGlyphs"  stroke="#111" stroke-width="0.38">1</text>
<text x="363.3" y="698.4" font-family='"Liberation Serif", serif' font-size="14.5" text-anchor="start" fill="#111" textLength="27.2" lengthAdjust="spacingAndGlyphs"  stroke="#111" stroke-width="0.38">GeV</text>
<text x="390.75" y="693.3" font-family='"Liberation Serif", serif' font-size="9.2" text-anchor="start" fill="#111"  stroke="#111" stroke-width="0.38">-1</text>
<text x="398.45" y="698.4" font-family='"Liberation Serif", serif' font-size="14.5" text-anchor="start" fill="#111" textLength="37.2" lengthAdjust="spacingAndGlyphs"  stroke="#111" stroke-width="0.38">, GAC</text>
<line x1="296.4" y1="711.5" x2="319.2" y2="711.5" stroke="#aaaaaa" stroke-width="2.7" />
<text x="325.55" y="716.5" font-family='"Liberation Serif", serif' font-size="14.5" text-anchor="start" fill="#111"  stroke="#111" stroke-width="0.38">g</text>
<text x="331.85" y="718.9" font-family='"Liberation Serif", serif' font-size="10.8" text-anchor="start" fill="#111" font-style="italic" stroke="#111" stroke-width="0.38">ν</text>
<text x="336.95" y="718.9" font-family='"Liberation Serif", serif' font-size="10.8" text-anchor="start" fill="#111" textLength="5.3" lengthAdjust="spacingAndGlyphs"  stroke="#111" stroke-width="0.38">a</text>
<text x="344.65" y="716.5" font-family='"Liberation Serif", serif' font-size="14.5" text-anchor="start" fill="#111" textLength="9.4" lengthAdjust="spacingAndGlyphs"  stroke="#111" stroke-width="0.38">=</text>
<text x="355.55" y="716.5" font-family='"Liberation Serif", serif' font-size="14.5" text-anchor="start" fill="#111" textLength="7.6" lengthAdjust="spacingAndGlyphs"  stroke="#111" stroke-width="0.38">1</text>
<text x="363.3" y="716.5" font-family='"Liberation Serif", serif' font-size="14.5" text-anchor="start" fill="#111" textLength="27.2" lengthAdjust="spacingAndGlyphs"  stroke="#111" stroke-width="0.38">GeV</text>
<text x="390.75" y="711.4" font-family='"Liberation Serif", serif' font-size="9.2" text-anchor="start" fill="#111"  stroke="#111" stroke-width="0.38">-1</text>
<text x="398.45" y="716.5" font-family='"Liberation Serif", serif' font-size="14.5" text-anchor="start" fill="#111" textLength="27.5" lengthAdjust="spacingAndGlyphs"  stroke="#111" stroke-width="0.38">, GC</text>
<line x1="514.1" y1="642.1" x2="536.9" y2="642.1" stroke="#000" stroke-width="2.7" />
<text x="542.9" y="647.1" font-family='"Liberation Serif", serif' font-size="14.5" text-anchor="start" fill="#111"  stroke="#111" stroke-width="0.38">g</text>
<text x="549.2" y="649.5" font-family='"Liberation Serif", serif' font-size="10.8" text-anchor="start" fill="#111" font-style="italic" stroke="#111" stroke-width="0.38">ν</text>
<text x="554.3" y="649.5" font-family='"Liberation Serif", serif' font-size="10.8" text-anchor="start" fill="#111" textLength="5.3" lengthAdjust="spacingAndGlyphs"  stroke="#111" stroke-width="0.38">a</text>
<text x="562" y="647.1" font-family='"Liberation Serif", serif' font-size="14.5" text-anchor="start" fill="#111" textLength="9.4" lengthAdjust="spacingAndGlyphs"  stroke="#111" stroke-width="0.38">=</text>
<text x="573" y="647.1" font-family='"Liberation Serif", serif' font-size="14.5" text-anchor="start" fill="#111" textLength="19.6" lengthAdjust="spacingAndGlyphs"  stroke="#111" stroke-width="0.38">0.5</text>
<text x="592.65" y="647.1" font-family='"Liberation Serif", serif' font-size="14.5" text-anchor="start" fill="#111" textLength="27.2" lengthAdjust="spacingAndGlyphs"  stroke="#111" stroke-width="0.38">GeV</text>
<text x="620.1" y="642" font-family='"Liberation Serif", serif' font-size="9.2" text-anchor="start" fill="#111"  stroke="#111" stroke-width="0.38">-1</text>
<text x="628.1" y="647.1" font-family='"Liberation Serif", serif' font-size="14.5" text-anchor="start" fill="#111" textLength="37.2" lengthAdjust="spacingAndGlyphs"  stroke="#111" stroke-width="0.38">, GAC</text>
<line x1="514.1" y1="660.2" x2="536.9" y2="660.2" stroke="#000" stroke-width="1.4" />
<text x="542.9" y="665.2" font-family='"Liberation Serif", serif' font-size="14.5" text-anchor="start" fill="#111"  stroke="#111" stroke-width="0.38">g</text>
<text x="549.2" y="667.6" font-family='"Liberation Serif", serif' font-size="10.8" text-anchor="start" fill="#111" font-style="italic" stroke="#111" stroke-width="0.38">ν</text>
<text x="554.3" y="667.6" font-family='"Liberation Serif", serif' font-size="10.8" text-anchor="start" fill="#111" textLength="5.3" lengthAdjust="spacingAndGlyphs"  stroke="#111" stroke-width="0.38">a</text>
<text x="562" y="665.2" font-family='"Liberation Serif", serif' font-size="14.5" text-anchor="start" fill="#111" textLength="9.4" lengthAdjust="spacingAndGlyphs"  stroke="#111" stroke-width="0.38">=</text>
<text x="573" y="665.2" font-family='"Liberation Serif", serif' font-size="14.5" text-anchor="start" fill="#111" textLength="19.6" lengthAdjust="spacingAndGlyphs"  stroke="#111" stroke-width="0.38">0.5</text>
<text x="592.65" y="665.2" font-family='"Liberation Serif", serif' font-size="14.5" text-anchor="start" fill="#111" textLength="27.2" lengthAdjust="spacingAndGlyphs"  stroke="#111" stroke-width="0.38">GeV</text>
<text x="620.1" y="660.1" font-family='"Liberation Serif", serif' font-size="9.2" text-anchor="start" fill="#111"  stroke="#111" stroke-width="0.38">-1</text>
<text x="628.1" y="665.2" font-family='"Liberation Serif", serif' font-size="14.5" text-anchor="start" fill="#111" textLength="27.5" lengthAdjust="spacingAndGlyphs"  stroke="#111" stroke-width="0.38">, GC</text>
<line x1="514.1" y1="678.3" x2="536.9" y2="678.3" stroke="#aaaaaa" stroke-width="1.4" />
<text x="542.9" y="683.3" font-family='"Liberation Serif", serif' font-size="14.5" text-anchor="start" fill="#111"  stroke="#111" stroke-width="0.38">g</text>
<text x="549.2" y="685.7" font-family='"Liberation Serif", serif' font-size="10.8" text-anchor="start" fill="#111" font-style="italic" stroke="#111" stroke-width="0.38">ν</text>
<text x="554.3" y="685.7" font-family='"Liberation Serif", serif' font-size="10.8" text-anchor="start" fill="#111" textLength="5.3" lengthAdjust="spacingAndGlyphs"  stroke="#111" stroke-width="0.38">a</text>
<text x="562" y="683.3" font-family='"Liberation Serif", serif' font-size="14.5" text-anchor="start" fill="#111" textLength="9.4" lengthAdjust="spacingAndGlyphs"  stroke="#111" stroke-width="0.38">=</text>
<text x="572.9" y="683.3" font-family='"Liberation Serif", serif' font-size="14.5" text-anchor="start" fill="#111" textLength="7.6" lengthAdjust="spacingAndGlyphs"  stroke="#111" stroke-width="0.38">1</text>
<text x="580.65" y="683.3" font-family='"Liberation Serif", serif' font-size="14.5" text-anchor="start" fill="#111" textLength="27.2" lengthAdjust="spacingAndGlyphs"  stroke="#111" stroke-width="0.38">GeV</text>
<text x="608.1" y="678.2" font-family='"Liberation Serif", serif' font-size="9.2" text-anchor="start" fill="#111"  stroke="#111" stroke-width="0.38">-1</text>
<text x="615.8" y="683.3" font-family='"Liberation Serif", serif' font-size="14.5" text-anchor="start" fill="#111" textLength="37.2" lengthAdjust="spacingAndGlyphs"  stroke="#111" stroke-width="0.38">, GAC</text>
<line x1="514.1" y1="696.4" x2="536.9" y2="696.4" stroke="#aaaaaa" stroke-width="2.7" />
<text x="542.9" y="701.4" font-family='"Liberation Serif", serif' font-size="14.5" text-anchor="start" fill="#111"  stroke="#111" stroke-width="0.38">g</text>
<text x="549.2" y="703.8" font-family='"Liberation Serif", serif' font-size="10.8" text-anchor="start" fill="#111" font-style="italic" stroke="#111" stroke-width="0.38">ν</text>
<text x="554.3" y="703.8" font-family='"Liberation Serif", serif' font-size="10.8" text-anchor="start" fill="#111" textLength="5.3" lengthAdjust="spacingAndGlyphs"  stroke="#111" stroke-width="0.38">a</text>
<text x="562" y="701.4" font-family='"Liberation Serif", serif' font-size="14.5" text-anchor="start" fill="#111" textLength="9.4" lengthAdjust="spacingAndGlyphs"  stroke="#111" stroke-width="0.38">=</text>
<text x="572.9" y="701.4" font-family='"Liberation Serif", serif' font-size="14.5" text-anchor="start" fill="#111" textLength="7.6" lengthAdjust="spacingAndGlyphs"  stroke="#111" stroke-width="0.38">1</text>
<text x="580.65" y="701.4" font-family='"Liberation Serif", serif' font-size="14.5" text-anchor="start" fill="#111" textLength="27.2" lengthAdjust="spacingAndGlyphs"  stroke="#111" stroke-width="0.38">GeV</text>
<text x="608.1" y="696.3" font-family='"Liberation Serif", serif' font-size="9.2" text-anchor="start" fill="#111"  stroke="#111" stroke-width="0.38">-1</text>
<text x="615.8" y="701.4" font-family='"Liberation Serif", serif' font-size="14.5" text-anchor="start" fill="#111" textLength="27.5" lengthAdjust="spacingAndGlyphs"  stroke="#111" stroke-width="0.38">, GC</text>
<g transform="translate(309.30,148.20) rotate(-77.20)" font-style="italic" stroke="#111" stroke-width="0.3">
<text x="0" y="0" font-family='"Liberation Sans", sans-serif' font-size="15.3" text-anchor="start" fill="#111" textLength="8.32" lengthAdjust="spacingAndGlyphs" >g</text>
<text x="8.32" y="2.6" font-family='"Liberation Sans", sans-serif' font-size="10" text-anchor="start" fill="#111" textLength="10.37" lengthAdjust="spacingAndGlyphs" >νa</text>
<text x="18.69" y="0" font-family='"Liberation Sans", sans-serif' font-size="15.3" text-anchor="start" fill="#111" textLength="52.85" lengthAdjust="spacingAndGlyphs" >=1 GeV</text>
<text x="71.55" y="-6.3" font-family='"Liberation Sans", sans-serif' font-size="9" text-anchor="start" fill="#111" textLength="8.22" lengthAdjust="spacingAndGlyphs" >-1</text>
<text x="79.77" y="0" font-family='"Liberation Sans", sans-serif' font-size="15.3" text-anchor="start" fill="#111" textLength="30.83" lengthAdjust="spacingAndGlyphs" >, GC</text>
</g>
<g transform="translate(352.90,161.00) rotate(-76.20)" font-style="italic" stroke="#111" stroke-width="0.3">
<text x="0" y="0" font-family='"Liberation Sans", sans-serif' font-size="15.3" text-anchor="start" fill="#111" textLength="8.45" lengthAdjust="spacingAndGlyphs" >g</text>
<text x="8.45" y="2.6" font-family='"Liberation Sans", sans-serif' font-size="10" text-anchor="start" fill="#111" textLength="10.54" lengthAdjust="spacingAndGlyphs" >νa</text>
<text x="18.99" y="0" font-family='"Liberation Sans", sans-serif' font-size="15.3" text-anchor="start" fill="#111" textLength="53.69" lengthAdjust="spacingAndGlyphs" >=1 GeV</text>
<text x="72.68" y="-6.3" font-family='"Liberation Sans", sans-serif' font-size="9" text-anchor="start" fill="#111" textLength="8.35" lengthAdjust="spacingAndGlyphs" >-1</text>
<text x="81.04" y="0" font-family='"Liberation Sans", sans-serif' font-size="15.3" text-anchor="start" fill="#111" textLength="41.46" lengthAdjust="spacingAndGlyphs" >, GAC</text>
</g>
<g transform="translate(380.40,162.50) rotate(-77.40)" font-style="italic" stroke="#111" stroke-width="0.3">
<text x="0" y="0" font-family='"Liberation Sans", sans-serif' font-size="15.3" text-anchor="start" fill="#111" textLength="8.47" lengthAdjust="spacingAndGlyphs" >g</text>
<text x="8.47" y="2.6" font-family='"Liberation Sans", sans-serif' font-size="10" text-anchor="start" fill="#111" textLength="10.57" lengthAdjust="spacingAndGlyphs" >νa</text>
<text x="19.04" y="0" font-family='"Liberation Sans", sans-serif' font-size="15.3" text-anchor="start" fill="#111" textLength="66.99" lengthAdjust="spacingAndGlyphs" >=0.5 GeV</text>
<text x="86.03" y="-6.3" font-family='"Liberation Sans", sans-serif' font-size="9" text-anchor="start" fill="#111" textLength="8.37" lengthAdjust="spacingAndGlyphs" >-1</text>
<text x="94.4" y="0" font-family='"Liberation Sans", sans-serif' font-size="15.3" text-anchor="start" fill="#111" textLength="31.4" lengthAdjust="spacingAndGlyphs" >, GC</text>
</g>
<g transform="translate(420.50,170.30) rotate(-75.20)" font-style="italic" stroke="#111" stroke-width="0.3">
<text x="0" y="0" font-family='"Liberation Sans", sans-serif' font-size="15.3" text-anchor="start" fill="#111" textLength="8.41" lengthAdjust="spacingAndGlyphs" >g</text>
<text x="8.41" y="2.6" font-family='"Liberation Sans", sans-serif' font-size="10" text-anchor="start" fill="#111" textLength="10.49" lengthAdjust="spacingAndGlyphs" >νa</text>
<text x="18.9" y="0" font-family='"Liberation Sans", sans-serif' font-size="15.3" text-anchor="start" fill="#111" textLength="66.51" lengthAdjust="spacingAndGlyphs" >=0.5 GeV</text>
<text x="85.41" y="-6.3" font-family='"Liberation Sans", sans-serif' font-size="9" text-anchor="start" fill="#111" textLength="8.31" lengthAdjust="spacingAndGlyphs" >-1</text>
<text x="93.73" y="0" font-family='"Liberation Sans", sans-serif' font-size="15.3" text-anchor="start" fill="#111" textLength="41.27" lengthAdjust="spacingAndGlyphs" >, GAC</text>
</g>
</svg>
</body></html>
